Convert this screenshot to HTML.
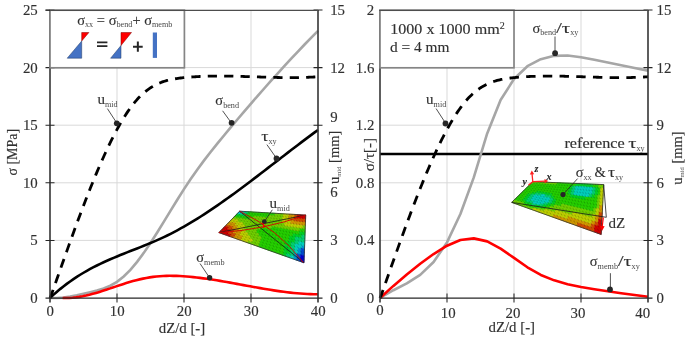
<!DOCTYPE html><html><head><meta charset="utf-8"><style>html,body{margin:0;padding:0;background:#fff;}svg{display:block;will-change:transform} text{stroke:currentColor;stroke-width:0.12px;paint-order:stroke} .s{stroke-width:0px}</style></head><body>
<svg width="685" height="337" viewBox="0 0 685 337" font-family='"Liberation Serif", serif'>
<rect width="685" height="337" fill="#fff"/>
<path d="M117.0,10.0 V298.0 M184.0,10.0 V298.0 M251.0,10.0 V298.0 M50.0,240.4 H318.0 M50.0,182.8 H318.0 M50.0,125.2 H318.0 M50.0,67.6 H318.0" stroke="#d9d9d9" stroke-width="1" fill="none"/>
<path d="M447.0,10.0 V298.0 M514.0,10.0 V298.0 M581.0,10.0 V298.0 M380.0,240.4 H648.0 M380.0,182.8 H648.0 M380.0,125.2 H648.0 M380.0,67.6 H648.0" stroke="#d9d9d9" stroke-width="1" fill="none"/>
<path d="M50.00,298.00 L56.70,298.00 L63.40,297.59 L70.10,296.65 L76.80,295.38 L83.50,293.86 L90.20,292.20 L96.90,290.47 L103.60,288.45 L110.30,285.72 L117.00,281.87 L123.70,276.54 L130.40,269.81 L137.10,261.85 L143.80,252.87 L150.50,243.03 L157.20,232.55 L163.90,221.67 L170.60,210.63 L177.30,199.70 L184.00,189.12 L190.70,179.01 L197.40,169.44 L204.10,160.41 L210.80,151.79 L217.50,143.42 L224.20,135.22 L230.90,127.16 L237.60,119.22 L244.30,111.37 L251.00,103.59 L257.70,95.89 L264.40,88.26 L271.10,80.73 L277.80,73.28 L284.50,65.93 L291.20,58.68 L297.90,51.54 L304.60,44.51 L311.30,37.59 L318.00,30.79" stroke="#a6a6a6" stroke-width="2.6" fill="none"/>
<path d="M50.00,298.00 L53.35,294.89 L56.70,291.93 L60.05,289.11 L63.40,286.43 L66.75,283.87 L70.10,281.43 L73.45,279.10 L76.80,276.88 L80.15,274.76 L83.50,272.74 L86.85,270.81 L90.20,268.96 L93.55,267.19 L96.90,265.49 L100.25,263.85 L103.60,262.28 L106.95,260.76 L110.30,259.28 L113.65,257.84 L117.00,256.44 L120.35,255.07 L123.70,253.72 L127.05,252.39 L130.40,251.07 L133.75,249.75 L137.10,248.43 L140.45,247.10 L143.80,245.76 L147.15,244.40 L150.50,243.01 L153.85,241.60 L157.20,240.14 L160.55,238.64 L163.90,237.08 L167.25,235.48 L170.60,233.81 L173.95,232.09 L177.30,230.31 L180.65,228.48 L184.00,226.60 L187.35,224.66 L190.70,222.68 L194.05,220.66 L197.40,218.59 L200.75,216.48 L204.10,214.32 L207.45,212.13 L210.80,209.90 L214.15,207.64 L217.50,205.35 L220.85,203.02 L224.20,200.66 L227.55,198.28 L230.90,195.86 L234.25,193.43 L237.60,190.97 L240.95,188.49 L244.30,185.99 L247.65,183.48 L251.00,180.95 L254.35,178.41 L257.70,175.85 L261.05,173.29 L264.40,170.72 L267.75,168.14 L271.10,165.56 L274.45,162.97 L277.80,160.38 L281.15,157.80 L284.50,155.22 L287.85,152.64 L291.20,150.07 L294.55,147.51 L297.90,144.95 L301.25,142.41 L304.60,139.88 L307.95,137.37 L311.30,134.88 L314.65,132.40 L318.00,129.95" stroke="#000" stroke-width="2.6" fill="none"/>
<path d="M62.60,298.00 L65.95,298.00 L69.30,297.97 L72.65,297.74 L76.00,297.37 L79.35,296.87 L82.70,296.27 L86.05,295.55 L89.40,294.75 L92.75,293.86 L96.10,292.91 L99.45,291.90 L102.80,290.84 L106.15,289.75 L109.50,288.63 L112.85,287.50 L116.20,286.37 L119.55,285.25 L122.90,284.15 L126.25,283.09 L129.60,282.07 L132.95,281.11 L136.30,280.21 L139.65,279.38 L143.00,278.63 L146.35,277.96 L149.70,277.38 L153.05,276.88 L156.40,276.49 L159.75,276.19 L163.10,275.98 L166.45,275.86 L169.80,275.81 L173.15,275.83 L176.50,275.92 L179.85,276.07 L183.20,276.27 L186.55,276.52 L189.90,276.81 L193.25,277.14 L196.60,277.51 L199.95,277.91 L203.30,278.34 L206.65,278.80 L210.00,279.29 L213.35,279.80 L216.70,280.33 L220.05,280.89 L223.40,281.46 L226.75,282.05 L230.10,282.64 L233.45,283.25 L236.80,283.87 L240.15,284.48 L243.50,285.10 L246.85,285.72 L250.20,286.34 L253.55,286.95 L256.90,287.56 L260.25,288.15 L263.60,288.73 L266.95,289.30 L270.30,289.84 L273.65,290.37 L277.00,290.87 L280.35,291.35 L283.70,291.80 L287.05,292.22 L290.40,292.61 L293.75,292.96 L297.10,293.27 L300.45,293.54 L303.80,293.77 L307.15,293.95 L310.50,294.09 L313.85,294.18 L317.20,294.21 L318.20,294.21" stroke="#ff0000" stroke-width="2.6" fill="none"/>
<path d="M50.00,298.00 L51.35,294.90 L52.69,291.06 L54.04,287.22 L55.39,283.39 L56.73,279.55 L58.08,275.73 L59.43,271.90 L60.77,268.08 L62.12,264.27 L63.47,260.47 L64.81,256.68 L66.16,252.90 L67.51,249.13 L68.85,245.37 L70.20,241.63 L71.55,237.90 L72.89,234.19 L74.24,230.50 L75.59,226.83 L76.93,223.18 L78.28,219.54 L79.63,215.94 L80.97,212.35 L82.32,208.79 L83.67,205.26 L85.02,201.75 L86.36,198.28 L87.71,194.83 L89.06,191.41 L90.40,188.03 L91.75,184.68 L93.10,181.36 L94.44,178.08 L95.79,174.84 L97.14,171.63 L98.48,168.46 L99.83,165.34 L101.18,162.25 L102.52,159.21 L103.87,156.21 L105.22,153.26 L106.56,150.35 L107.91,147.50 L109.26,144.69 L110.60,141.93 L111.95,139.22 L113.30,136.56 L114.64,133.96 L115.99,131.41 L117.34,128.92 L118.68,126.48 L120.03,124.10 L121.38,121.79 L122.72,119.53 L124.07,117.33 L125.42,115.20 L126.76,113.13 L128.11,111.13 L129.46,109.19 L130.80,107.32 L132.15,105.52 L133.50,103.79 L134.84,102.13 L136.19,100.55 L137.54,99.03 L138.88,97.59 L140.23,96.22 L141.58,94.91 L142.92,93.67 L144.27,92.50 L145.62,91.39 L146.96,90.33 L148.31,89.34 L149.66,88.40 L151.01,87.51 L152.35,86.68 L153.70,85.90 L155.05,85.17 L156.39,84.48 L157.74,83.84 L159.09,83.24 L160.43,82.68 L161.78,82.17 L163.13,81.69 L164.47,81.24 L165.82,80.83 L167.17,80.46 L168.51,80.11 L169.86,79.79 L171.21,79.49 L172.55,79.22 L173.90,78.98 L175.25,78.75 L176.59,78.54 L177.94,78.35 L179.29,78.18 L180.63,78.01 L181.98,77.86 L183.33,77.72 L184.67,77.58 L186.02,77.46 L187.37,77.34 L188.71,77.22 L190.06,77.11 L191.41,77.01 L192.75,76.91 L194.10,76.82 L195.45,76.74 L196.79,76.66 L198.14,76.59 L199.49,76.52 L200.83,76.46 L202.18,76.40 L203.53,76.35 L204.87,76.30 L206.22,76.26 L207.57,76.22 L208.91,76.19 L210.26,76.16 L211.61,76.13 L212.95,76.11 L214.30,76.10 L215.65,76.09 L216.99,76.08 L218.34,76.07 L219.69,76.07 L221.04,76.07 L222.38,76.08 L223.73,76.09 L225.08,76.10 L226.42,76.11 L227.77,76.13 L229.12,76.15 L230.46,76.17 L231.81,76.19 L233.16,76.22 L234.50,76.25 L235.85,76.28 L237.20,76.31 L238.54,76.35 L239.89,76.38 L241.24,76.42 L242.58,76.46 L243.93,76.50 L245.28,76.54 L246.62,76.58 L247.97,76.62 L249.32,76.66 L250.66,76.71 L252.01,76.75 L253.36,76.80 L254.70,76.84 L256.05,76.89 L257.40,76.93 L258.74,76.97 L260.09,77.02 L261.44,77.06 L262.78,77.10 L264.13,77.15 L265.48,77.19 L266.82,77.23 L268.17,77.27 L269.52,77.30 L270.86,77.34 L272.21,77.38 L273.56,77.41 L274.90,77.44 L276.25,77.47 L277.60,77.50 L278.94,77.52 L280.29,77.55 L281.64,77.57 L282.98,77.59 L284.33,77.60 L285.68,77.61 L287.03,77.62 L288.37,77.63 L289.72,77.63 L291.07,77.63 L292.41,77.63 L293.76,77.62 L295.11,77.61 L296.45,77.60 L297.80,77.58 L299.15,77.56 L300.49,77.53 L301.84,77.50 L303.19,77.46 L304.53,77.42 L305.88,77.38 L307.23,77.33 L308.57,77.27 L309.92,77.21 L311.27,77.15 L312.61,77.08 L313.96,77.00 L315.31,76.92 L316.65,76.83 L318.00,76.74" stroke="#000" stroke-width="2.8" fill="none" stroke-dasharray="9.2 7.2" stroke-dashoffset="0.5"/>
<path d="M380.0,154.0 H648.0" stroke="#000" stroke-width="2.7" fill="none"/>
<path d="M380.00,298.00 L393.40,290.23 L406.80,283.40 L420.20,274.86 L433.60,262.04 L447.00,242.40 L460.40,213.99 L473.80,177.40 L487.20,133.43 L500.60,100.06 L514.00,79.03 L527.40,66.21 L540.80,59.18 L554.20,55.83 L567.60,55.53 L581.00,57.19 L594.40,59.82 L607.80,62.59 L621.20,65.27 L634.60,67.93 L648.00,70.62" stroke="#a6a6a6" stroke-width="2.6" fill="none" stroke-linejoin="round"/>
<path d="M380.00,298.00 L393.40,285.89 L406.80,274.50 L420.20,263.76 L433.60,254.03 L447.00,245.70 L460.40,239.97 L473.80,238.36 L487.20,241.37 L500.60,248.58 L514.00,257.94 L527.40,267.26 L540.80,274.93 L554.20,280.37 L567.60,284.15 L581.00,286.93 L594.40,289.27 L607.80,291.32 L621.20,293.17 L634.60,294.93 L648.00,296.67" stroke="#ff0000" stroke-width="2.6" fill="none" stroke-linejoin="round"/>
<path d="M380.00,298.00 L381.35,294.90 L382.69,291.06 L384.04,287.22 L385.39,283.39 L386.73,279.55 L388.08,275.73 L389.43,271.90 L390.77,268.08 L392.12,264.27 L393.47,260.47 L394.81,256.68 L396.16,252.90 L397.51,249.13 L398.85,245.37 L400.20,241.63 L401.55,237.90 L402.89,234.19 L404.24,230.50 L405.59,226.83 L406.93,223.18 L408.28,219.54 L409.63,215.94 L410.97,212.35 L412.32,208.79 L413.67,205.26 L415.02,201.75 L416.36,198.28 L417.71,194.83 L419.06,191.41 L420.40,188.03 L421.75,184.68 L423.10,181.36 L424.44,178.08 L425.79,174.84 L427.14,171.63 L428.48,168.46 L429.83,165.34 L431.18,162.25 L432.52,159.21 L433.87,156.21 L435.22,153.26 L436.56,150.35 L437.91,147.50 L439.26,144.69 L440.60,141.93 L441.95,139.22 L443.30,136.56 L444.64,133.96 L445.99,131.41 L447.34,128.92 L448.68,126.48 L450.03,124.10 L451.38,121.79 L452.72,119.53 L454.07,117.33 L455.42,115.20 L456.76,113.13 L458.11,111.13 L459.46,109.19 L460.80,107.32 L462.15,105.52 L463.50,103.79 L464.84,102.13 L466.19,100.55 L467.54,99.03 L468.88,97.59 L470.23,96.22 L471.58,94.91 L472.92,93.67 L474.27,92.50 L475.62,91.39 L476.96,90.33 L478.31,89.34 L479.66,88.40 L481.01,87.51 L482.35,86.68 L483.70,85.90 L485.05,85.17 L486.39,84.48 L487.74,83.84 L489.09,83.24 L490.43,82.68 L491.78,82.17 L493.13,81.69 L494.47,81.24 L495.82,80.83 L497.17,80.46 L498.51,80.11 L499.86,79.79 L501.21,79.49 L502.55,79.22 L503.90,78.98 L505.25,78.75 L506.59,78.54 L507.94,78.35 L509.29,78.18 L510.63,78.01 L511.98,77.86 L513.33,77.72 L514.67,77.58 L516.02,77.46 L517.37,77.34 L518.71,77.22 L520.06,77.11 L521.41,77.01 L522.75,76.91 L524.10,76.82 L525.45,76.74 L526.79,76.66 L528.14,76.59 L529.49,76.52 L530.83,76.46 L532.18,76.40 L533.53,76.35 L534.87,76.30 L536.22,76.26 L537.57,76.22 L538.91,76.19 L540.26,76.16 L541.61,76.13 L542.95,76.11 L544.30,76.10 L545.65,76.09 L546.99,76.08 L548.34,76.07 L549.69,76.07 L551.04,76.07 L552.38,76.08 L553.73,76.09 L555.08,76.10 L556.42,76.11 L557.77,76.13 L559.12,76.15 L560.46,76.17 L561.81,76.19 L563.16,76.22 L564.50,76.25 L565.85,76.28 L567.20,76.31 L568.54,76.35 L569.89,76.38 L571.24,76.42 L572.58,76.46 L573.93,76.50 L575.28,76.54 L576.62,76.58 L577.97,76.62 L579.32,76.66 L580.66,76.71 L582.01,76.75 L583.36,76.80 L584.70,76.84 L586.05,76.89 L587.40,76.93 L588.74,76.97 L590.09,77.02 L591.44,77.06 L592.78,77.10 L594.13,77.15 L595.48,77.19 L596.82,77.23 L598.17,77.27 L599.52,77.30 L600.86,77.34 L602.21,77.38 L603.56,77.41 L604.90,77.44 L606.25,77.47 L607.60,77.50 L608.94,77.52 L610.29,77.55 L611.64,77.57 L612.98,77.59 L614.33,77.60 L615.68,77.61 L617.03,77.62 L618.37,77.63 L619.72,77.63 L621.07,77.63 L622.41,77.63 L623.76,77.62 L625.11,77.61 L626.45,77.60 L627.80,77.58 L629.15,77.56 L630.49,77.53 L631.84,77.50 L633.19,77.46 L634.53,77.42 L635.88,77.38 L637.23,77.33 L638.57,77.27 L639.92,77.21 L641.27,77.15 L642.61,77.08 L643.96,77.00 L645.31,76.92 L646.65,76.83 L648.00,76.74" stroke="#000" stroke-width="2.8" fill="none" stroke-dasharray="9.4 7.3" stroke-dashoffset="0.8"/>
<path d="M50.00,10.0 V302.5 M318.00,10.0 V302.5" stroke="#363636" stroke-width="1.6" fill="none"/>
<path d="M45.5,298.00 H322.5" stroke="#262626" stroke-width="1.25" fill="none"/>
<path d="M117.0,293.5 V302.5 M184.0,293.5 V302.5 M251.0,293.5 V302.5 M45.5,240.4 H54.5 M313.5,240.4 H322.5 M45.5,182.8 H54.5 M313.5,182.8 H322.5 M45.5,125.2 H54.5 M313.5,125.2 H322.5 M45.5,67.6 H54.5 M313.5,67.6 H322.5 M45.5,10.0 H54.5 M313.5,10.0 H322.5" stroke="#262626" stroke-width="1.05" fill="none"/>
<path d="M380.00,10.0 V302.5 M648.00,10.0 V302.5" stroke="#363636" stroke-width="1.6" fill="none"/>
<path d="M380.0,298.00 H652.5" stroke="#262626" stroke-width="1.25" fill="none"/>
<path d="M447.0,293.5 V302.5 M514.0,293.5 V302.5 M581.0,293.5 V302.5 M643.5,240.4 H652.5 M643.5,182.8 H652.5 M643.5,125.2 H652.5 M643.5,67.6 H652.5 M643.5,10.0 H652.5" stroke="#262626" stroke-width="1.05" fill="none"/>
<rect x="50.0" y="10.2" width="134.4" height="57.6" fill="#fff" stroke="#858585" stroke-width="1.7"/>
<path d="M49.2,10.30 H318.0" stroke="#4d4d4d" stroke-width="1.3" fill="none"/>
<path d="M45.5,10.30 H50.0" stroke="#262626" stroke-width="1.05" fill="none"/>
<rect x="380.0" y="10.2" width="134.0" height="57.6" fill="#fff" stroke="#858585" stroke-width="1.7"/>
<path d="M379.2,10.30 H648.0" stroke="#4d4d4d" stroke-width="1.3" fill="none"/>
<path d="M380.0,10.30 H380.0" stroke="#262626" stroke-width="1.05" fill="none"/>
<text x="37.8" y="302.9" font-size="14.0" text-anchor="end" fill="#303030" textLength="7.42" lengthAdjust="spacingAndGlyphs" >0</text>
<text x="37.8" y="245.3" font-size="14.0" text-anchor="end" fill="#303030" textLength="7.42" lengthAdjust="spacingAndGlyphs" >5</text>
<text x="37.8" y="187.7" font-size="14.0" text-anchor="end" fill="#303030" textLength="14.84" lengthAdjust="spacingAndGlyphs" >10</text>
<text x="37.8" y="130.1" font-size="14.0" text-anchor="end" fill="#303030" textLength="14.84" lengthAdjust="spacingAndGlyphs" >15</text>
<text x="37.8" y="72.5" font-size="14.0" text-anchor="end" fill="#303030" textLength="14.84" lengthAdjust="spacingAndGlyphs" >20</text>
<text x="37.8" y="14.9" font-size="14.0" text-anchor="end" fill="#303030" textLength="14.84" lengthAdjust="spacingAndGlyphs" >25</text>
<text x="330.2" y="302.9" font-size="14.0" text-anchor="start" fill="#303030" textLength="7.42" lengthAdjust="spacingAndGlyphs" >0</text>
<text x="330.2" y="245.3" font-size="14.0" text-anchor="start" fill="#303030" textLength="7.42" lengthAdjust="spacingAndGlyphs" >3</text>
<text x="330.2" y="196.5" font-size="14.0" text-anchor="start" fill="#303030" textLength="7.42" lengthAdjust="spacingAndGlyphs" >6</text>
<text x="330.2" y="122.4" font-size="14.0" text-anchor="start" fill="#303030" textLength="7.42" lengthAdjust="spacingAndGlyphs" >9</text>
<text x="330.2" y="72.5" font-size="14.0" text-anchor="start" fill="#303030" textLength="14.84" lengthAdjust="spacingAndGlyphs" >12</text>
<text x="330.2" y="14.9" font-size="14.0" text-anchor="start" fill="#303030" textLength="14.84" lengthAdjust="spacingAndGlyphs" >15</text>
<text x="50.3" y="315.6" font-size="14.0" text-anchor="middle" fill="#303030" textLength="7.42" lengthAdjust="spacingAndGlyphs" >0</text>
<text x="117.3" y="315.6" font-size="14.0" text-anchor="middle" fill="#303030" textLength="14.84" lengthAdjust="spacingAndGlyphs" >10</text>
<text x="184.3" y="315.6" font-size="14.0" text-anchor="middle" fill="#303030" textLength="14.84" lengthAdjust="spacingAndGlyphs" >20</text>
<text x="251.3" y="315.6" font-size="14.0" text-anchor="middle" fill="#303030" textLength="14.84" lengthAdjust="spacingAndGlyphs" >30</text>
<text x="318.3" y="315.6" font-size="14.0" text-anchor="middle" fill="#303030" textLength="14.84" lengthAdjust="spacingAndGlyphs" >40</text>
<text x="374.3" y="302.9" font-size="14.0" text-anchor="end" fill="#303030" textLength="7.42" lengthAdjust="spacingAndGlyphs" >0</text>
<text x="374.3" y="245.3" font-size="14.0" text-anchor="end" fill="#303030" textLength="18.55" lengthAdjust="spacingAndGlyphs" >0.4</text>
<text x="374.3" y="187.7" font-size="14.0" text-anchor="end" fill="#303030" textLength="18.55" lengthAdjust="spacingAndGlyphs" >0.8</text>
<text x="374.3" y="130.1" font-size="14.0" text-anchor="end" fill="#303030" textLength="18.55" lengthAdjust="spacingAndGlyphs" >1.2</text>
<text x="374.3" y="72.5" font-size="14.0" text-anchor="end" fill="#303030" textLength="18.55" lengthAdjust="spacingAndGlyphs" >1.6</text>
<text x="374.3" y="14.9" font-size="14.0" text-anchor="end" fill="#303030" textLength="7.42" lengthAdjust="spacingAndGlyphs" >2</text>
<text x="656.6" y="302.9" font-size="14.0" text-anchor="start" fill="#303030" textLength="7.42" lengthAdjust="spacingAndGlyphs" >0</text>
<text x="656.6" y="245.3" font-size="14.0" text-anchor="start" fill="#303030" textLength="7.42" lengthAdjust="spacingAndGlyphs" >3</text>
<text x="656.6" y="187.7" font-size="14.0" text-anchor="start" fill="#303030" textLength="7.42" lengthAdjust="spacingAndGlyphs" >6</text>
<text x="656.6" y="130.1" font-size="14.0" text-anchor="start" fill="#303030" textLength="7.42" lengthAdjust="spacingAndGlyphs" >9</text>
<text x="656.6" y="72.5" font-size="14.0" text-anchor="start" fill="#303030" textLength="14.84" lengthAdjust="spacingAndGlyphs" >12</text>
<text x="656.6" y="14.9" font-size="14.0" text-anchor="start" fill="#303030" textLength="14.84" lengthAdjust="spacingAndGlyphs" >15</text>
<text x="380.0" y="314.6" font-size="14.0" text-anchor="middle" fill="#303030" textLength="7.42" lengthAdjust="spacingAndGlyphs" >0</text>
<text x="448.3" y="318.2" font-size="14.0" text-anchor="middle" fill="#303030" textLength="14.84" lengthAdjust="spacingAndGlyphs" >10</text>
<text x="512.9" y="318.2" font-size="14.0" text-anchor="middle" fill="#303030" textLength="14.84" lengthAdjust="spacingAndGlyphs" >20</text>
<text x="577.9" y="318.2" font-size="14.0" text-anchor="middle" fill="#303030" textLength="14.84" lengthAdjust="spacingAndGlyphs" >30</text>
<text x="642.7" y="318.2" font-size="14.0" text-anchor="middle" fill="#303030" textLength="14.84" lengthAdjust="spacingAndGlyphs" >40</text>
<text x="182" y="332.6" font-size="14" text-anchor="middle" fill="#303030" textLength="46.5" lengthAdjust="spacingAndGlyphs">dZ/d [-]</text>
<text x="511.8" y="332" font-size="14" text-anchor="middle" fill="#303030" textLength="46.5" lengthAdjust="spacingAndGlyphs">dZ/d [-]</text>
<text transform="translate(17.2,152.2) rotate(-90)" font-size="14" text-anchor="middle" fill="#303030">σ [MPa]</text>
<text transform="translate(338.6,157.4) rotate(-90)" font-size="14.5" text-anchor="middle" fill="#303030">u<tspan class="s" font-size="6.6" dy="2" fill="#595959">mid</tspan><tspan dy="-2"> [mm]</tspan></text>
<text transform="translate(373.6,154.7) rotate(-90)" font-size="15" text-anchor="middle" fill="#303030">σ/τ[-]</text>
<text transform="translate(682.4,158) rotate(-90)" font-size="14.5" text-anchor="middle" fill="#303030">u<tspan class="s" font-size="6.6" dy="2" fill="#595959">mid</tspan><tspan dy="-2"> [mm]</tspan></text>
<path d="M239.6,211.2L242.4,211.4L240.9,213.0L238.1,212.7ZM293.9,252.7L297.4,253.8L297.1,257.0L293.7,255.9ZM293.7,255.9L297.1,257.0L296.9,260.3L293.4,259.0ZM297.8,247.3L301.2,248.2L301.0,251.6L297.6,250.5ZM297.6,250.5L301.0,251.6L300.8,254.9L297.4,253.8ZM301.3,244.9L304.6,245.8L304.5,249.2L301.2,248.2Z" fill="#009dd8" stroke="#009dd8" stroke-width="0.6"/><path d="M238.1,212.7L240.9,213.0L239.5,214.6L236.6,214.3ZM242.4,211.4L245.1,211.5L243.7,213.2L240.9,213.0ZM240.9,213.0L243.7,213.2L242.4,214.9L239.5,214.6ZM290.2,254.7L293.7,255.9L293.4,259.0L289.8,257.8ZM294.8,243.2L298.1,244.0L297.8,247.3L294.5,246.3ZM294.5,246.3L297.8,247.3L297.6,250.5L294.2,249.5ZM294.2,249.5L297.6,250.5L297.4,253.8L293.9,252.7ZM298.3,240.8L301.5,241.6L301.3,244.9L298.1,244.0ZM298.1,244.0L301.3,244.9L301.2,248.2L297.8,247.3ZM301.5,241.6L304.7,242.4L304.6,245.8L301.3,244.9Z" fill="#00d8c5" stroke="#00d8c5" stroke-width="0.6"/><path d="M236.6,214.3L239.5,214.6L238.1,216.2L235.2,215.8ZM239.5,214.6L242.4,214.9L241.0,216.6L238.1,216.2ZM242.4,214.9L245.2,215.2L243.9,217.0L241.0,216.6ZM247.9,211.7L250.6,211.8L249.4,213.7L246.6,213.5ZM246.6,213.5L249.4,213.7L248.1,215.5L245.2,215.2ZM285.0,240.6L288.3,241.4L287.9,244.4L284.6,243.5ZM284.6,243.5L287.9,244.4L287.5,247.5L284.1,246.4ZM284.1,246.4L287.5,247.5L287.1,250.5L283.6,249.4ZM283.6,249.4L287.1,250.5L286.7,253.5L283.2,252.3ZM283.2,252.3L286.7,253.5L286.3,256.5L282.7,255.3ZM289.1,235.4L292.2,236.1L291.9,239.2L288.7,238.4ZM288.7,238.4L291.9,239.2L291.6,242.3L288.3,241.4ZM288.3,241.4L291.6,242.3L291.2,245.4L287.9,244.4ZM287.9,244.4L291.2,245.4L290.9,248.5L287.5,247.5ZM287.5,247.5L290.9,248.5L290.5,251.6L287.1,250.5ZM287.1,250.5L290.5,251.6L290.2,254.7L286.7,253.5ZM292.6,233.0L295.7,233.6L295.4,236.8L292.2,236.1ZM292.2,236.1L295.4,236.8L295.1,240.0L291.9,239.2ZM291.9,239.2L295.1,240.0L294.8,243.2L291.6,242.3ZM295.7,233.6L298.8,234.3L298.6,237.5L295.4,236.8ZM299.0,231.0L302.1,231.6L301.9,234.9L298.8,234.3ZM298.8,234.3L301.9,234.9L301.7,238.2L298.6,237.5ZM302.1,231.6L305.1,232.1L305.0,235.5L301.9,234.9Z" fill="#00d827" stroke="#00d827" stroke-width="0.6"/><path d="M235.2,215.8L238.1,216.2L236.7,217.8L233.7,217.3ZM238.1,216.2L241.0,216.6L239.6,218.3L236.7,217.8ZM241.0,216.6L243.9,217.0L242.6,218.7L239.6,218.3ZM245.2,215.2L248.1,215.5L246.9,217.4L243.9,217.0ZM243.9,217.0L246.9,217.4L245.6,219.2L242.6,218.7ZM250.6,211.8L253.4,212.0L252.2,213.9L249.4,213.7ZM249.4,213.7L252.2,213.9L251.0,215.9L248.1,215.5ZM248.1,215.5L251.0,215.9L249.8,217.8L246.9,217.4ZM246.9,217.4L249.8,217.8L248.6,219.7L245.6,219.2ZM253.4,212.0L256.1,212.2L255.0,214.2L252.2,213.9ZM252.2,213.9L255.0,214.2L253.8,216.2L251.0,215.9ZM251.0,215.9L253.8,216.2L252.7,218.2L249.8,217.8ZM256.1,212.2L258.9,212.3L257.8,214.4L255.0,214.2ZM255.0,214.2L257.8,214.4L256.7,216.5L253.8,216.2ZM258.9,212.3L261.6,212.5L260.6,214.7L257.8,214.4ZM257.8,214.4L260.6,214.7L259.6,216.8L256.7,216.5ZM261.6,212.5L264.4,212.7L263.4,214.9L260.6,214.7ZM260.6,214.7L263.4,214.9L262.4,217.1L259.6,216.8ZM264.4,212.7L267.1,212.8L266.2,215.1L263.4,214.9ZM263.4,214.9L266.2,215.1L265.3,217.4L262.4,217.1ZM257.6,228.3L260.8,229.0L259.8,231.3L256.6,230.5ZM256.6,230.5L259.8,231.3L258.9,233.6L255.7,232.8ZM267.1,212.8L269.9,213.0L269.0,215.4L266.2,215.1ZM266.2,215.1L269.0,215.4L268.2,217.8L265.3,217.4ZM261.7,226.7L264.8,227.3L263.9,229.7L260.8,229.0ZM260.8,229.0L263.9,229.7L263.0,232.1L259.8,231.3ZM259.8,231.3L263.0,232.1L262.2,234.5L258.9,233.6ZM258.9,233.6L262.2,234.5L261.3,236.9L258.0,235.9ZM269.9,213.0L272.6,213.1L271.8,215.6L269.0,215.4ZM264.8,227.3L267.9,228.0L267.1,230.4L263.9,229.7ZM263.9,229.7L267.1,230.4L266.2,232.9L263.0,232.1ZM263.0,232.1L266.2,232.9L265.5,235.4L262.2,234.5ZM262.2,234.5L265.5,235.4L264.7,237.8L261.3,236.9ZM261.3,236.9L264.7,237.8L263.9,240.3L260.5,239.3ZM260.5,239.3L263.9,240.3L263.1,242.8L259.6,241.7ZM259.6,241.7L263.1,242.8L262.2,245.2L258.8,244.1ZM258.8,244.1L262.2,245.2L261.4,247.7L257.9,246.4ZM272.6,213.1L275.4,213.3L274.7,215.9L271.8,215.6ZM267.9,228.0L270.9,228.6L270.2,231.1L267.1,230.4ZM267.1,230.4L270.2,231.1L269.5,233.7L266.2,232.9ZM266.2,232.9L269.5,233.7L268.7,236.2L265.5,235.4ZM265.5,235.4L268.7,236.2L268.0,238.8L264.7,237.8ZM264.7,237.8L268.0,238.8L267.2,241.3L263.9,240.3ZM263.9,240.3L267.2,241.3L266.5,243.9L263.1,242.8ZM263.1,242.8L266.5,243.9L265.7,246.4L262.2,245.2ZM262.2,245.2L265.7,246.4L265.0,249.0L261.4,247.7ZM271.7,226.0L274.7,226.6L274.0,229.2L270.9,228.6ZM270.9,228.6L274.0,229.2L273.4,231.8L270.2,231.1ZM270.2,231.1L273.4,231.8L272.7,234.5L269.5,233.7ZM269.5,233.7L272.7,234.5L272.0,237.1L268.7,236.2ZM268.7,236.2L272.0,237.1L271.3,239.7L268.0,238.8ZM268.0,238.8L271.3,239.7L270.6,242.3L267.2,241.3ZM267.2,241.3L270.6,242.3L269.9,245.0L266.5,243.9ZM266.5,243.9L269.9,245.0L269.2,247.6L265.7,246.4ZM265.7,246.4L269.2,247.6L268.5,250.2L265.0,249.0ZM274.7,226.6L277.8,227.2L277.1,229.9L274.0,229.2ZM274.0,229.2L277.1,229.9L276.5,232.6L273.4,231.8ZM273.4,231.8L276.5,232.6L275.9,235.3L272.7,234.5ZM272.7,234.5L275.9,235.3L275.2,238.0L272.0,237.1ZM272.0,237.1L275.2,238.0L274.6,240.7L271.3,239.7ZM271.3,239.7L274.6,240.7L274.0,243.4L270.6,242.3ZM270.6,242.3L274.0,243.4L273.3,246.1L269.9,245.0ZM269.9,245.0L273.3,246.1L272.7,248.8L269.2,247.6ZM269.2,247.6L272.7,248.8L272.1,251.5L268.5,250.2ZM277.8,227.2L280.8,227.7L280.2,230.5L277.1,229.9ZM277.1,229.9L280.2,230.5L279.6,233.3L276.5,232.6ZM276.5,232.6L279.6,233.3L279.1,236.0L275.9,235.3ZM275.9,235.3L279.1,236.0L278.5,238.8L275.2,238.0ZM275.2,238.0L278.5,238.8L277.9,241.6L274.6,240.7ZM274.6,240.7L277.9,241.6L277.4,244.4L274.0,243.4ZM274.0,243.4L277.4,244.4L276.8,247.2L273.3,246.1ZM273.3,246.1L276.8,247.2L276.2,250.0L272.7,248.8ZM272.7,248.8L276.2,250.0L275.6,252.7L272.1,251.5ZM280.8,227.7L283.8,228.3L283.3,231.1L280.2,230.5ZM280.2,230.5L283.3,231.1L282.8,234.0L279.6,233.3ZM279.6,233.3L282.8,234.0L282.3,236.8L279.1,236.0ZM279.1,236.0L282.3,236.8L281.8,239.7L278.5,238.8ZM278.5,238.8L281.8,239.7L281.2,242.6L277.9,241.6ZM277.9,241.6L281.2,242.6L280.7,245.4L277.4,244.4ZM277.4,244.4L280.7,245.4L280.2,248.3L276.8,247.2ZM276.8,247.2L280.2,248.3L279.7,251.1L276.2,250.0ZM276.2,250.0L279.7,251.1L279.2,254.0L275.6,252.7ZM283.8,228.3L286.9,228.8L286.4,231.8L283.3,231.1ZM283.3,231.1L286.4,231.8L285.9,234.7L282.8,234.0ZM282.8,234.0L285.9,234.7L285.5,237.6L282.3,236.8ZM282.3,236.8L285.5,237.6L285.0,240.6L281.8,239.7ZM281.8,239.7L285.0,240.6L284.6,243.5L281.2,242.6ZM281.2,242.6L284.6,243.5L284.1,246.4L280.7,245.4ZM280.7,245.4L284.1,246.4L283.6,249.4L280.2,248.3ZM280.2,248.3L283.6,249.4L283.2,252.3L279.7,251.1ZM279.7,251.1L283.2,252.3L282.7,255.3L279.2,254.0ZM286.9,228.8L289.9,229.4L289.5,232.4L286.4,231.8ZM286.4,231.8L289.5,232.4L289.1,235.4L285.9,234.7ZM285.9,234.7L289.1,235.4L288.7,238.4L285.5,237.6ZM285.5,237.6L288.7,238.4L288.3,241.4L285.0,240.6ZM289.9,229.4L292.9,229.9L292.6,233.0L289.5,232.4ZM289.5,232.4L292.6,233.0L292.2,236.1L289.1,235.4ZM292.9,229.9L296.0,230.5L295.7,233.6L292.6,233.0ZM296.0,230.5L299.0,231.0L298.8,234.3L295.7,233.6ZM299.3,227.8L302.2,228.3L302.1,231.6L299.0,231.0ZM302.2,228.3L305.2,228.7L305.1,232.1L302.1,231.6Z" fill="#27d800" stroke="#27d800" stroke-width="0.6"/><path d="M233.7,217.3L236.7,217.8L235.2,219.4L232.2,218.8ZM236.7,217.8L239.6,218.3L238.3,220.0L235.2,219.4ZM239.6,218.3L242.6,218.7L241.3,220.5L238.3,220.0ZM238.3,220.0L241.3,220.5L240.0,222.3L236.9,221.6ZM242.6,218.7L245.6,219.2L244.4,221.1L241.3,220.5ZM241.3,220.5L244.4,221.1L243.1,222.9L240.0,222.3ZM245.6,219.2L248.6,219.7L247.4,221.6L244.4,221.1ZM244.4,221.1L247.4,221.6L246.2,223.5L243.1,222.9ZM243.1,222.9L246.2,223.5L245.0,225.5L241.8,224.7ZM249.8,217.8L252.7,218.2L251.6,220.2L248.6,219.7ZM248.6,219.7L251.6,220.2L250.4,222.2L247.4,221.6ZM247.4,221.6L250.4,222.2L249.3,224.2L246.2,223.5ZM246.2,223.5L249.3,224.2L248.2,226.2L245.0,225.5ZM245.0,225.5L248.2,226.2L247.0,228.2L243.8,227.4ZM243.8,227.4L247.0,228.2L245.9,230.2L242.6,229.3ZM253.8,216.2L256.7,216.5L255.6,218.6L252.7,218.2ZM252.7,218.2L255.6,218.6L254.5,220.6L251.6,220.2ZM251.6,220.2L254.5,220.6L253.5,222.7L250.4,222.2ZM250.4,222.2L253.5,222.7L252.4,224.8L249.3,224.2ZM249.3,224.2L252.4,224.8L251.3,226.9L248.2,226.2ZM248.2,226.2L251.3,226.9L250.2,228.9L247.0,228.2ZM247.0,228.2L250.2,228.9L249.1,231.0L245.9,230.2ZM245.9,230.2L249.1,231.0L248.1,233.1L244.7,232.2ZM256.7,216.5L259.6,216.8L258.6,219.0L255.6,218.6ZM255.6,218.6L258.6,219.0L257.5,221.1L254.5,220.6ZM254.5,220.6L257.5,221.1L256.5,223.3L253.5,222.7ZM253.5,222.7L256.5,223.3L255.5,225.4L252.4,224.8ZM252.4,224.8L255.5,225.4L254.4,227.6L251.3,226.9ZM251.3,226.9L254.4,227.6L253.4,229.7L250.2,228.9ZM250.2,228.9L253.4,229.7L252.4,231.9L249.1,231.0ZM249.1,231.0L252.4,231.9L251.4,234.0L248.1,233.1ZM248.1,233.1L251.4,234.0L250.3,236.2L247.0,235.2ZM259.6,216.8L262.4,217.1L261.5,219.4L258.6,219.0ZM258.6,219.0L261.5,219.4L260.5,221.6L257.5,221.1ZM257.5,221.1L260.5,221.6L259.5,223.8L256.5,223.3ZM256.5,223.3L259.5,223.8L258.6,226.1L255.5,225.4ZM255.5,225.4L258.6,226.1L257.6,228.3L254.4,227.6ZM254.4,227.6L257.6,228.3L256.6,230.5L253.4,229.7ZM253.4,229.7L256.6,230.5L255.7,232.8L252.4,231.9ZM252.4,231.9L255.7,232.8L254.7,235.0L251.4,234.0ZM251.4,234.0L254.7,235.0L253.7,237.2L250.3,236.2ZM250.3,236.2L253.7,237.2L252.8,239.5L249.3,238.4ZM248.3,240.5L251.8,241.7L250.8,243.9L247.3,242.7ZM262.4,217.1L265.3,217.4L264.4,219.8L261.5,219.4ZM261.5,219.4L264.4,219.8L263.5,222.1L260.5,221.6ZM260.5,221.6L263.5,222.1L262.6,224.4L259.5,223.8ZM259.5,223.8L262.6,224.4L261.7,226.7L258.6,226.1ZM258.6,226.1L261.7,226.7L260.8,229.0L257.6,228.3ZM255.7,232.8L258.9,233.6L258.0,235.9L254.7,235.0ZM254.7,235.0L258.0,235.9L257.1,238.2L253.7,237.2ZM253.7,237.2L257.1,238.2L256.2,240.6L252.8,239.5ZM252.8,239.5L256.2,240.6L255.3,242.9L251.8,241.7ZM251.8,241.7L255.3,242.9L254.4,245.2L250.8,243.9ZM265.3,217.4L268.2,217.8L267.3,220.2L264.4,219.8ZM264.4,219.8L267.3,220.2L266.5,222.5L263.5,222.1ZM263.5,222.1L266.5,222.5L265.6,224.9L262.6,224.4ZM262.6,224.4L265.6,224.9L264.8,227.3L261.7,226.7ZM258.0,235.9L261.3,236.9L260.5,239.3L257.1,238.2ZM257.1,238.2L260.5,239.3L259.6,241.7L256.2,240.6ZM256.2,240.6L259.6,241.7L258.8,244.1L255.3,242.9ZM255.3,242.9L258.8,244.1L257.9,246.4L254.4,245.2ZM269.0,215.4L271.8,215.6L271.1,218.1L268.2,217.8ZM268.2,217.8L271.1,218.1L270.2,220.6L267.3,220.2ZM267.3,220.2L270.2,220.6L269.4,223.0L266.5,222.5ZM266.5,222.5L269.4,223.0L268.6,225.5L265.6,224.9ZM265.6,224.9L268.6,225.5L267.9,228.0L264.8,227.3ZM271.8,215.6L274.7,215.9L273.9,218.4L271.1,218.1ZM271.1,218.1L273.9,218.4L273.2,221.0L270.2,220.6ZM270.2,220.6L273.2,221.0L272.4,223.5L269.4,223.0ZM269.4,223.0L272.4,223.5L271.7,226.0L268.6,225.5ZM268.6,225.5L271.7,226.0L270.9,228.6L267.9,228.0ZM275.4,213.3L278.2,213.5L277.5,216.1L274.7,215.9ZM274.7,215.9L277.5,216.1L276.8,218.7L273.9,218.4ZM273.9,218.4L276.8,218.7L276.1,221.3L273.2,221.0ZM273.2,221.0L276.1,221.3L275.4,224.0L272.4,223.5ZM272.4,223.5L275.4,224.0L274.7,226.6L271.7,226.0ZM278.2,213.5L280.9,213.6L280.3,216.3L277.5,216.1ZM277.5,216.1L280.3,216.3L279.7,219.0L276.8,218.7ZM276.8,218.7L279.7,219.0L279.0,221.7L276.1,221.3ZM276.1,221.3L279.0,221.7L278.4,224.4L275.4,224.0ZM275.4,224.0L278.4,224.4L277.8,227.2L274.7,226.6ZM280.9,213.6L283.7,213.8L283.1,216.6L280.3,216.3ZM280.3,216.3L283.1,216.6L282.5,219.4L279.7,219.0ZM279.7,219.0L282.5,219.4L281.9,222.1L279.0,221.7ZM279.0,221.7L281.9,222.1L281.4,224.9L278.4,224.4ZM278.4,224.4L281.4,224.9L280.8,227.7L277.8,227.2ZM281.9,222.1L284.9,222.5L284.4,225.4L281.4,224.9ZM281.4,224.9L284.4,225.4L283.8,228.3L280.8,227.7ZM284.4,225.4L287.3,225.9L286.9,228.8L283.8,228.3ZM287.3,225.9L290.3,226.4L289.9,229.4L286.9,228.8ZM290.3,226.4L293.3,226.8L292.9,229.9L289.9,229.4ZM293.3,226.8L296.3,227.3L296.0,230.5L292.9,229.9ZM296.3,227.3L299.3,227.8L299.0,231.0L296.0,230.5ZM302.4,224.9L305.3,225.3L305.2,228.7L302.2,228.3Z" fill="#76d800" stroke="#76d800" stroke-width="0.6"/><path d="M232.2,218.8L235.2,219.4L233.8,221.0L230.7,220.4ZM230.7,220.4L233.8,221.0L232.4,222.6L229.2,221.9ZM235.2,219.4L238.3,220.0L236.9,221.6L233.8,221.0ZM233.8,221.0L236.9,221.6L235.6,223.3L232.4,222.6ZM236.9,221.6L240.0,222.3L238.7,224.0L235.6,223.3ZM235.6,223.3L238.7,224.0L237.4,225.8L234.2,225.0ZM240.0,222.3L243.1,222.9L241.8,224.7L238.7,224.0ZM238.7,224.0L241.8,224.7L240.6,226.6L237.4,225.8ZM237.4,225.8L240.6,226.6L239.3,228.4L236.1,227.6ZM241.8,224.7L245.0,225.5L243.8,227.4L240.6,226.6ZM240.6,226.6L243.8,227.4L242.6,229.3L239.3,228.4ZM239.3,228.4L242.6,229.3L241.4,231.2L238.1,230.3ZM242.6,229.3L245.9,230.2L244.7,232.2L241.4,231.2ZM241.4,231.2L244.7,232.2L243.6,234.2L240.2,233.1ZM240.2,233.1L243.6,234.2L242.5,236.2L239.0,235.1ZM244.7,232.2L248.1,233.1L247.0,235.2L243.6,234.2ZM243.6,234.2L247.0,235.2L245.9,237.3L242.5,236.2ZM242.5,236.2L245.9,237.3L244.8,239.3L241.3,238.2ZM241.3,238.2L244.8,239.3L243.7,241.4L240.2,240.1ZM247.0,235.2L250.3,236.2L249.3,238.4L245.9,237.3ZM245.9,237.3L249.3,238.4L248.3,240.5L244.8,239.3ZM244.8,239.3L248.3,240.5L247.3,242.7L243.7,241.4ZM249.3,238.4L252.8,239.5L251.8,241.7L248.3,240.5ZM283.7,213.8L286.4,214.0L285.9,216.8L283.1,216.6ZM283.1,216.6L285.9,216.8L285.4,219.7L282.5,219.4ZM282.5,219.4L285.4,219.7L284.9,222.5L281.9,222.1ZM286.4,214.0L289.2,214.1L288.7,217.1L285.9,216.8ZM285.9,216.8L288.7,217.1L288.3,220.0L285.4,219.7ZM285.4,219.7L288.3,220.0L287.8,222.9L284.9,222.5ZM284.9,222.5L287.8,222.9L287.3,225.9L284.4,225.4ZM288.3,220.0L291.1,220.3L290.7,223.3L287.8,222.9ZM287.8,222.9L290.7,223.3L290.3,226.4L287.3,225.9ZM290.7,223.3L293.6,223.7L293.3,226.8L290.3,226.4ZM293.6,223.7L296.6,224.1L296.3,227.3L293.3,226.8ZM296.6,224.1L299.5,224.5L299.3,227.8L296.3,227.3ZM299.5,224.5L302.4,224.9L302.2,228.3L299.3,227.8Z" fill="#c5d800" stroke="#c5d800" stroke-width="0.6"/><path d="M229.2,221.9L232.4,222.6L231.0,224.2L227.8,223.4ZM227.8,223.4L231.0,224.2L229.6,225.8L226.3,225.0ZM232.4,222.6L235.6,223.3L234.2,225.0L231.0,224.2ZM231.0,224.2L234.2,225.0L232.8,226.7L229.6,225.8ZM234.2,225.0L237.4,225.8L236.1,227.6L232.8,226.7ZM232.8,226.7L236.1,227.6L234.8,229.3L231.5,228.4ZM236.1,227.6L239.3,228.4L238.1,230.3L234.8,229.3ZM234.8,229.3L238.1,230.3L236.8,232.1L233.5,231.1ZM233.5,231.1L236.8,232.1L235.6,234.0L232.2,232.8ZM238.1,230.3L241.4,231.2L240.2,233.1L236.8,232.1ZM236.8,232.1L240.2,233.1L239.0,235.1L235.6,234.0ZM235.6,234.0L239.0,235.1L237.8,237.0L234.3,235.8ZM234.3,235.8L237.8,237.0L236.6,238.9L233.1,237.6ZM239.0,235.1L242.5,236.2L241.3,238.2L237.8,237.0ZM237.8,237.0L241.3,238.2L240.2,240.1L236.6,238.9ZM289.2,214.1L291.9,214.3L291.5,217.3L288.7,217.1ZM288.7,217.1L291.5,217.3L291.1,220.3L288.3,220.0ZM291.9,214.3L294.7,214.4L294.3,217.5L291.5,217.3ZM291.5,217.3L294.3,217.5L294.0,220.6L291.1,220.3ZM291.1,220.3L294.0,220.6L293.6,223.7L290.7,223.3ZM294.0,220.6L296.9,221.0L296.6,224.1L293.6,223.7ZM296.9,221.0L299.7,221.3L299.5,224.5L296.6,224.1ZM299.7,221.3L302.6,221.6L302.4,224.9L299.5,224.5ZM302.6,221.6L305.5,221.9L305.3,225.3L302.4,224.9Z" fill="#d89d00" stroke="#d89d00" stroke-width="0.6"/><path d="M226.3,225.0L229.6,225.8L228.1,227.4L224.8,226.5ZM229.6,225.8L232.8,226.7L231.5,228.4L228.1,227.4ZM228.1,227.4L231.5,228.4L230.1,230.1L226.7,229.0ZM231.5,228.4L234.8,229.3L233.5,231.1L230.1,230.1ZM230.1,230.1L233.5,231.1L232.2,232.8L228.7,231.7ZM228.7,231.7L232.2,232.8L230.8,234.6L227.4,233.4ZM232.2,232.8L235.6,234.0L234.3,235.8L230.8,234.6ZM230.8,234.6L234.3,235.8L233.1,237.6L229.5,236.4ZM294.7,214.4L297.4,214.6L297.1,217.8L294.3,217.5ZM294.3,217.5L297.1,217.8L296.9,221.0L294.0,220.6ZM297.1,217.8L300.0,218.0L299.7,221.3L296.9,221.0ZM300.0,218.0L302.8,218.3L302.6,221.6L299.7,221.3ZM302.8,218.3L305.6,218.5L305.5,221.9L302.6,221.6Z" fill="#d84f00" stroke="#d84f00" stroke-width="0.6"/><path d="M224.8,226.5L228.1,227.4L226.7,229.0L223.3,228.0ZM223.3,228.0L226.7,229.0L225.3,230.6L221.9,229.5ZM221.9,229.5L225.3,230.6L223.9,232.3L220.4,231.1ZM220.4,231.1L223.9,232.3L222.4,233.9L218.9,232.6ZM226.7,229.0L230.1,230.1L228.7,231.7L225.3,230.6ZM225.3,230.6L228.7,231.7L227.4,233.4L223.9,232.3ZM223.9,232.3L227.4,233.4L226.0,235.1L222.4,233.9ZM227.4,233.4L230.8,234.6L229.5,236.4L226.0,235.1ZM297.4,214.6L300.2,214.8L300.0,218.0L297.1,217.8ZM300.2,214.8L302.9,214.9L302.8,218.3L300.0,218.0ZM302.9,214.9L305.7,215.1L305.6,218.5L302.8,218.3Z" fill="#d80000" stroke="#d80000" stroke-width="0.6"/><path d="M245.1,211.5L247.9,211.7L246.6,213.5L243.7,213.2ZM243.7,213.2L246.6,213.5L245.2,215.2L242.4,214.9ZM286.7,253.5L290.2,254.7L289.8,257.8L286.3,256.5ZM291.6,242.3L294.8,243.2L294.5,246.3L291.2,245.4ZM291.2,245.4L294.5,246.3L294.2,249.5L290.9,248.5ZM290.9,248.5L294.2,249.5L293.9,252.7L290.5,251.6ZM290.5,251.6L293.9,252.7L293.7,255.9L290.2,254.7ZM295.4,236.8L298.6,237.5L298.3,240.8L295.1,240.0ZM295.1,240.0L298.3,240.8L298.1,244.0L294.8,243.2ZM298.6,237.5L301.7,238.2L301.5,241.6L298.3,240.8ZM301.9,234.9L305.0,235.5L304.9,238.9L301.7,238.2ZM301.7,238.2L304.9,238.9L304.7,242.4L301.5,241.6Z" fill="#00d876" stroke="#00d876" stroke-width="0.6"/><path d="M297.4,253.8L300.8,254.9L300.6,258.2L297.1,257.0ZM297.1,257.0L300.6,258.2L300.5,261.5L296.9,260.3ZM301.2,248.2L304.5,249.2L304.4,252.6L301.0,251.6ZM301.0,251.6L304.4,252.6L304.2,256.0L300.8,254.9Z" fill="#004fd8" stroke="#004fd8" stroke-width="0.6"/><path d="M300.8,254.9L304.2,256.0L304.1,259.4L300.6,258.2ZM300.6,258.2L304.1,259.4L304.0,262.8L300.5,261.5Z" fill="#0000d8" stroke="#0000d8" stroke-width="0.6"/><path d="M242.4,211.4L222.4,233.9M245.1,211.5L226.0,235.1M247.9,211.7L229.5,236.4M250.6,211.8L233.1,237.6M253.4,212.0L236.6,238.9M256.1,212.2L240.2,240.1M258.9,212.3L243.7,241.4M261.6,212.5L247.3,242.7M264.4,212.7L250.8,243.9M267.1,212.8L254.4,245.2M269.9,213.0L257.9,246.4M272.6,213.1L261.4,247.7M275.4,213.3L265.0,249.0M278.2,213.5L268.5,250.2M280.9,213.6L272.1,251.5M283.7,213.8L275.6,252.7M286.4,214.0L279.2,254.0M289.2,214.1L282.7,255.3M291.9,214.3L286.3,256.5M294.7,214.4L289.8,257.8M297.4,214.6L293.4,259.0M300.2,214.8L296.9,260.3M302.9,214.9L300.5,261.5M238.1,212.7L305.6,218.5M236.6,214.3L305.5,221.9M235.2,215.8L305.3,225.3M233.7,217.3L305.2,228.7M232.2,218.8L305.1,232.1M230.7,220.4L305.0,235.5M229.2,221.9L304.9,238.9M227.8,223.4L304.7,242.4M226.3,225.0L304.6,245.8M224.8,226.5L304.5,249.2M223.3,228.0L304.4,252.6M221.9,229.5L304.2,256.0M220.4,231.1L304.1,259.4M220.4,231.1L222.4,233.9M221.9,229.5L223.9,232.3L226.0,235.1M223.3,228.0L225.3,230.6L227.4,233.4L229.5,236.4M224.8,226.5L226.7,229.0L228.7,231.7L230.8,234.6L233.1,237.6M226.3,225.0L228.1,227.4L230.1,230.1L232.2,232.8L234.3,235.8L236.6,238.9M227.8,223.4L229.6,225.8L231.5,228.4L233.5,231.1L235.6,234.0L237.8,237.0L240.2,240.1M229.2,221.9L231.0,224.2L232.8,226.7L234.8,229.3L236.8,232.1L239.0,235.1L241.3,238.2L243.7,241.4M230.7,220.4L232.4,222.6L234.2,225.0L236.1,227.6L238.1,230.3L240.2,233.1L242.5,236.2L244.8,239.3L247.3,242.7M232.2,218.8L233.8,221.0L235.6,223.3L237.4,225.8L239.3,228.4L241.4,231.2L243.6,234.2L245.9,237.3L248.3,240.5L250.8,243.9M233.7,217.3L235.2,219.4L236.9,221.6L238.7,224.0L240.6,226.6L242.6,229.3L244.7,232.2L247.0,235.2L249.3,238.4L251.8,241.7L254.4,245.2M235.2,215.8L236.7,217.8L238.3,220.0L240.0,222.3L241.8,224.7L243.8,227.4L245.9,230.2L248.1,233.1L250.3,236.2L252.8,239.5L255.3,242.9L257.9,246.4M236.6,214.3L238.1,216.2L239.6,218.3L241.3,220.5L243.1,222.9L245.0,225.5L247.0,228.2L249.1,231.0L251.4,234.0L253.7,237.2L256.2,240.6L258.8,244.1L261.4,247.7M238.1,212.7L239.5,214.6L241.0,216.6L242.6,218.7L244.4,221.1L246.2,223.5L248.2,226.2L250.2,228.9L252.4,231.9L254.7,235.0L257.1,238.2L259.6,241.7L262.2,245.2L265.0,249.0M239.6,211.2L240.9,213.0L242.4,214.9L243.9,217.0L245.6,219.2L247.4,221.6L249.3,224.2L251.3,226.9L253.4,229.7L255.7,232.8L258.0,235.9L260.5,239.3L263.1,242.8L265.7,246.4L268.5,250.2M242.4,211.4L243.7,213.2L245.2,215.2L246.9,217.4L248.6,219.7L250.4,222.2L252.4,224.8L254.4,227.6L256.6,230.5L258.9,233.6L261.3,236.9L263.9,240.3L266.5,243.9L269.2,247.6L272.1,251.5M245.1,211.5L246.6,213.5L248.1,215.5L249.8,217.8L251.6,220.2L253.5,222.7L255.5,225.4L257.6,228.3L259.8,231.3L262.2,234.5L264.7,237.8L267.2,241.3L269.9,245.0L272.7,248.8L275.6,252.7M247.9,211.7L249.4,213.7L251.0,215.9L252.7,218.2L254.5,220.6L256.5,223.3L258.6,226.1L260.8,229.0L263.0,232.1L265.5,235.4L268.0,238.8L270.6,242.3L273.3,246.1L276.2,250.0L279.2,254.0M250.6,211.8L252.2,213.9L253.8,216.2L255.6,218.6L257.5,221.1L259.5,223.8L261.7,226.7L263.9,229.7L266.2,232.9L268.7,236.2L271.3,239.7L274.0,243.4L276.8,247.2L279.7,251.1L282.7,255.3M253.4,212.0L255.0,214.2L256.7,216.5L258.6,219.0L260.5,221.6L262.6,224.4L264.8,227.3L267.1,230.4L269.5,233.7L272.0,237.1L274.6,240.7L277.4,244.4L280.2,248.3L283.2,252.3L286.3,256.5M256.1,212.2L257.8,214.4L259.6,216.8L261.5,219.4L263.5,222.1L265.6,224.9L267.9,228.0L270.2,231.1L272.7,234.5L275.2,238.0L277.9,241.6L280.7,245.4L283.6,249.4L286.7,253.5L289.8,257.8M258.9,212.3L260.6,214.7L262.4,217.1L264.4,219.8L266.5,222.5L268.6,225.5L270.9,228.6L273.4,231.8L275.9,235.3L278.5,238.8L281.2,242.6L284.1,246.4L287.1,250.5L290.2,254.7L293.4,259.0M261.6,212.5L263.4,214.9L265.3,217.4L267.3,220.2L269.4,223.0L271.7,226.0L274.0,229.2L276.5,232.6L279.1,236.0L281.8,239.7L284.6,243.5L287.5,247.5L290.5,251.6L293.7,255.9L296.9,260.3M264.4,212.7L266.2,215.1L268.2,217.8L270.2,220.6L272.4,223.5L274.7,226.6L277.1,229.9L279.6,233.3L282.3,236.8L285.0,240.6L287.9,244.4L290.9,248.5L293.9,252.7L297.1,257.0L300.5,261.5M267.1,212.8L269.0,215.4L271.1,218.1L273.2,221.0L275.4,224.0L277.8,227.2L280.2,230.5L282.8,234.0L285.5,237.6L288.3,241.4L291.2,245.4L294.2,249.5L297.4,253.8L300.6,258.2L304.0,262.8M269.9,213.0L271.8,215.6L273.9,218.4L276.1,221.3L278.4,224.4L280.8,227.7L283.3,231.1L285.9,234.7L288.7,238.4L291.6,242.3L294.5,246.3L297.6,250.5L300.8,254.9L304.1,259.4M272.6,213.1L274.7,215.9L276.8,218.7L279.0,221.7L281.4,224.9L283.8,228.3L286.4,231.8L289.1,235.4L291.9,239.2L294.8,243.2L297.8,247.3L301.0,251.6L304.2,256.0M275.4,213.3L277.5,216.1L279.7,219.0L281.9,222.1L284.4,225.4L286.9,228.8L289.5,232.4L292.2,236.1L295.1,240.0L298.1,244.0L301.2,248.2L304.4,252.6M278.2,213.5L280.3,216.3L282.5,219.4L284.9,222.5L287.3,225.9L289.9,229.4L292.6,233.0L295.4,236.8L298.3,240.8L301.3,244.9L304.5,249.2M280.9,213.6L283.1,216.6L285.4,219.7L287.8,222.9L290.3,226.4L292.9,229.9L295.7,233.6L298.6,237.5L301.5,241.6L304.6,245.8M283.7,213.8L285.9,216.8L288.3,220.0L290.7,223.3L293.3,226.8L296.0,230.5L298.8,234.3L301.7,238.2L304.7,242.4M286.4,214.0L288.7,217.1L291.1,220.3L293.6,223.7L296.3,227.3L299.0,231.0L301.9,234.9L304.9,238.9M289.2,214.1L291.5,217.3L294.0,220.6L296.6,224.1L299.3,227.8L302.1,231.6L305.0,235.5M291.9,214.3L294.3,217.5L296.9,221.0L299.5,224.5L302.2,228.3L305.1,232.1M294.7,214.4L297.1,217.8L299.7,221.3L302.4,224.9L305.2,228.7M297.4,214.6L300.0,218.0L302.6,221.6L305.3,225.3M300.2,214.8L302.8,218.3L305.5,221.9M302.9,214.9L305.6,218.5" stroke="#000" stroke-opacity="0.28" stroke-width="0.35" fill="none"/>
<polygon points="218.9,232.6 239.6,211.2 305.7,215.1 304.0,262.8" fill="none" stroke="#303030" stroke-width="0.8"/>
<path d="M239.6,211.2 L304,262.8 M218.9,232.6 L305.7,215.1" stroke="#1a1a1a" stroke-width="0.8" fill="none"/>
<path d="M239.6,211.2 Q278,229 303.2,262.3 M218.9,232.6 Q263.5,230 305.7,215.1" stroke="#d00000" stroke-width="0.9" fill="none"/>
<path d="M263.5,228 L263.5,222.5" stroke="#ff0000" stroke-width="1.2"/><path d="M261.3,224 L263.5,220.5 L265.7,224 Z" fill="#ff0000"/>
<path d="M532.8,181.7L535.5,181.8L534.1,183.4L531.3,183.2ZM514.7,199.4L518.1,200.5L516.6,202.1L513.2,200.9ZM513.2,200.9L516.6,202.1L515.1,203.6L511.7,202.4ZM535.5,181.8L538.3,181.9L536.8,183.6L534.1,183.4ZM518.1,200.5L521.4,201.6L520.0,203.2L516.6,202.1ZM516.6,202.1L520.0,203.2L518.6,204.9L515.1,203.6ZM538.3,181.9L541.0,182.0L539.6,183.8L536.8,183.6ZM521.4,201.6L524.7,202.7L523.4,204.4L520.0,203.2ZM520.0,203.2L523.4,204.4L522.0,206.1L518.6,204.9ZM541.0,182.0L543.7,182.1L542.4,183.9L539.6,183.8ZM523.4,204.4L526.8,205.5L525.5,207.3L522.0,206.1ZM543.7,182.1L546.4,182.3L545.2,184.1L542.4,183.9ZM526.8,205.5L530.2,206.7L528.9,208.6L525.5,207.3ZM546.4,182.3L549.2,182.4L548.0,184.3L545.2,184.1ZM530.2,206.7L533.6,207.8L532.4,209.8L528.9,208.6ZM549.2,182.4L551.9,182.5L550.7,184.5L548.0,184.3ZM551.9,182.5L554.6,182.6L553.5,184.7L550.7,184.5ZM538.1,207.0L541.4,208.0L540.3,210.2L536.9,209.0ZM554.6,182.6L557.3,182.7L556.3,184.9L553.5,184.7ZM541.4,208.0L544.8,209.1L543.7,211.3L540.3,210.2ZM545.8,206.9L549.1,207.9L548.1,210.2L544.8,209.1ZM550.1,205.6L553.3,206.5L552.4,208.9L549.1,207.9ZM549.1,207.9L552.4,208.9L551.5,211.3L548.1,210.2ZM554.3,204.2L557.5,205.0L556.6,207.5L553.3,206.5ZM553.3,206.5L556.6,207.5L555.7,209.9L552.4,208.9ZM552.4,208.9L555.7,209.9L554.8,212.3L551.5,211.3ZM557.5,205.0L560.7,205.8L559.8,208.4L556.6,207.5ZM556.6,207.5L559.8,208.4L559.0,210.9L555.7,209.9ZM561.5,203.3L564.6,204.1L563.9,206.7L560.7,205.8ZM560.7,205.8L563.9,206.7L563.1,209.3L559.8,208.4ZM559.8,208.4L563.1,209.3L562.3,211.9L559.0,210.9ZM564.6,204.1L567.8,204.8L567.0,207.5L563.9,206.7ZM563.9,206.7L567.0,207.5L566.3,210.2L563.1,209.3ZM563.1,209.3L566.3,210.2L565.6,212.9L562.3,211.9ZM567.8,204.8L570.9,205.6L570.2,208.3L567.0,207.5ZM567.0,207.5L570.2,208.3L569.5,211.1L566.3,210.2ZM566.3,210.2L569.5,211.1L568.8,213.9L565.6,212.9ZM570.9,205.6L574.0,206.3L573.4,209.2L570.2,208.3ZM570.2,208.3L573.4,209.2L572.8,212.0L569.5,211.1ZM569.5,211.1L572.8,212.0L572.1,214.9L568.8,213.9ZM574.0,206.3L577.2,207.1L576.6,210.0L573.4,209.2ZM573.4,209.2L576.6,210.0L576.0,212.9L572.8,212.0ZM577.2,207.1L580.3,207.8L579.8,210.8L576.6,210.0ZM576.6,210.0L579.8,210.8L579.2,213.8L576.0,212.9ZM580.3,207.8L583.5,208.6L583.0,211.7L579.8,210.8ZM579.8,210.8L583.0,211.7L582.5,214.8L579.2,213.8ZM583.5,208.6L586.6,209.3L586.2,212.5L583.0,211.7ZM583.0,211.7L586.2,212.5L585.7,215.7L582.5,214.8ZM586.6,209.3L589.7,210.1L589.3,213.3L586.2,212.5ZM586.2,212.5L589.3,213.3L589.0,216.6L585.7,215.7ZM589.7,210.1L592.9,210.9L592.5,214.2L589.3,213.3ZM589.3,213.3L592.5,214.2L592.2,217.5L589.0,216.6ZM593.2,207.5L596.3,208.2L596.0,211.6L592.9,210.9ZM592.9,210.9L596.0,211.6L595.7,215.0L592.5,214.2ZM598.2,184.4L601.0,184.5L600.7,188.0L598.0,187.8ZM597.4,194.6L600.3,194.9L600.1,198.4L597.1,198.0ZM597.1,198.0L600.1,198.4L599.8,201.9L596.8,201.4ZM596.8,201.4L599.8,201.9L599.6,205.4L596.6,204.8ZM596.6,204.8L599.6,205.4L599.4,208.9L596.3,208.2ZM601.0,184.5L603.7,184.6L603.5,188.2L600.7,188.0Z" fill="#76d800" stroke="#76d800" stroke-width="0.6"/><path d="M531.3,183.2L534.1,183.4L532.6,184.9L529.8,184.7ZM529.8,184.7L532.6,184.9L531.2,186.5L528.3,186.1ZM528.3,186.1L531.2,186.5L529.7,188.0L526.8,187.6ZM526.8,187.6L529.7,188.0L528.2,189.6L525.3,189.1ZM525.3,189.1L528.2,189.6L526.8,191.2L523.8,190.6ZM523.8,190.6L526.8,191.2L525.3,192.7L522.2,192.1ZM522.2,192.1L525.3,192.7L523.9,194.3L520.7,193.5ZM520.7,193.5L523.9,194.3L522.4,195.8L519.2,195.0ZM519.2,195.0L522.4,195.8L521.0,197.4L517.7,196.5ZM517.7,196.5L521.0,197.4L519.5,199.0L516.2,198.0ZM516.2,198.0L519.5,199.0L518.1,200.5L514.7,199.4ZM534.1,183.4L536.8,183.6L535.4,185.2L532.6,184.9ZM532.6,184.9L535.4,185.2L534.0,186.8L531.2,186.5ZM531.2,186.5L534.0,186.8L532.6,188.5L529.7,188.0ZM529.7,188.0L532.6,188.5L531.2,190.1L528.2,189.6ZM528.2,189.6L531.2,190.1L529.8,191.8L526.8,191.2ZM526.8,191.2L529.8,191.8L528.4,193.4L525.3,192.7ZM525.3,192.7L528.4,193.4L527.0,195.0L523.9,194.3ZM523.9,194.3L527.0,195.0L525.6,196.7L522.4,195.8ZM522.4,195.8L525.6,196.7L524.2,198.3L521.0,197.4ZM521.0,197.4L524.2,198.3L522.8,200.0L519.5,199.0ZM519.5,199.0L522.8,200.0L521.4,201.6L518.1,200.5ZM536.8,183.6L539.6,183.8L538.3,185.5L535.4,185.2ZM535.4,185.2L538.3,185.5L536.9,187.2L534.0,186.8ZM534.0,186.8L536.9,187.2L535.6,188.9L532.6,188.5ZM532.6,188.5L535.6,188.9L534.2,190.6L531.2,190.1ZM531.2,190.1L534.2,190.6L532.9,192.3L529.8,191.8ZM529.8,191.8L532.9,192.3L531.5,194.1L528.4,193.4ZM522.8,200.0L526.1,200.9L524.7,202.7L521.4,201.6ZM539.6,183.8L542.4,183.9L541.1,185.7L538.3,185.5ZM538.3,185.5L541.1,185.7L539.8,187.5L536.9,187.2ZM536.9,187.2L539.8,187.5L538.5,189.3L535.6,188.9ZM535.6,188.9L538.5,189.3L537.2,191.1L534.2,190.6ZM534.2,190.6L537.2,191.1L535.9,192.9L532.9,192.3ZM524.7,202.7L528.1,203.7L526.8,205.5L523.4,204.4ZM542.4,183.9L545.2,184.1L543.9,186.0L541.1,185.7ZM541.1,185.7L543.9,186.0L542.7,187.9L539.8,187.5ZM539.8,187.5L542.7,187.9L541.4,189.8L538.5,189.3ZM538.5,189.3L541.4,189.8L540.2,191.7L537.2,191.1ZM528.1,203.7L531.4,204.8L530.2,206.7L526.8,205.5ZM545.2,184.1L548.0,184.3L546.8,186.3L543.9,186.0ZM543.9,186.0L546.8,186.3L545.6,188.2L542.7,187.9ZM542.7,187.9L545.6,188.2L544.4,190.2L541.4,189.8ZM541.4,189.8L544.4,190.2L543.2,192.2L540.2,191.7ZM531.4,204.8L534.8,205.9L533.6,207.8L530.2,206.7ZM548.0,184.3L550.7,184.5L549.6,186.6L546.8,186.3ZM546.8,186.3L549.6,186.6L548.4,188.6L545.6,188.2ZM545.6,188.2L548.4,188.6L547.3,190.6L544.4,190.2ZM544.4,190.2L547.3,190.6L546.1,192.7L543.2,192.2ZM534.8,205.9L538.1,207.0L536.9,209.0L533.6,207.8ZM550.7,184.5L553.5,184.7L552.4,186.8L549.6,186.6ZM549.6,186.6L552.4,186.8L551.3,189.0L548.4,188.6ZM548.4,188.6L551.3,189.0L550.2,191.1L547.3,190.6ZM547.3,190.6L550.2,191.1L549.1,193.2L546.1,192.7ZM553.5,184.7L556.3,184.9L555.2,187.1L552.4,186.8ZM552.4,186.8L555.2,187.1L554.2,189.3L551.3,189.0ZM551.3,189.0L554.2,189.3L553.2,191.5L550.2,191.1ZM550.2,191.1L553.2,191.5L552.1,193.7L549.1,193.2ZM542.5,205.9L545.8,206.9L544.8,209.1L541.4,208.0ZM557.3,182.7L560.1,182.8L559.1,185.1L556.3,184.9ZM556.3,184.9L559.1,185.1L558.1,187.4L555.2,187.1ZM555.2,187.1L558.1,187.4L557.1,189.7L554.2,189.3ZM554.2,189.3L557.1,189.7L556.1,191.9L553.2,191.5ZM553.2,191.5L556.1,191.9L555.1,194.2L552.1,193.7ZM552.1,193.7L555.1,194.2L554.1,196.5L551.1,195.9ZM546.9,204.7L550.1,205.6L549.1,207.9L545.8,206.9ZM560.1,182.8L562.8,182.9L561.9,185.3L559.1,185.1ZM559.1,185.1L561.9,185.3L560.9,187.6L558.1,187.4ZM558.1,187.4L560.9,187.6L560.0,190.0L557.1,189.7ZM557.1,189.7L560.0,190.0L559.0,192.4L556.1,191.9ZM556.1,191.9L559.0,192.4L558.1,194.7L555.1,194.2ZM555.1,194.2L558.1,194.7L557.1,197.1L554.1,196.5ZM554.1,196.5L557.1,197.1L556.2,199.5L553.1,198.8ZM551.1,203.3L554.3,204.2L553.3,206.5L550.1,205.6ZM562.8,182.9L565.5,183.0L564.6,185.5L561.9,185.3ZM561.9,185.3L564.6,185.5L563.7,187.9L560.9,187.6ZM560.9,187.6L563.7,187.9L562.8,190.4L560.0,190.0ZM560.0,190.0L562.8,190.4L561.9,192.8L559.0,192.4ZM559.0,192.4L561.9,192.8L561.1,195.2L558.1,194.7ZM558.1,194.7L561.1,195.2L560.2,197.7L557.1,197.1ZM557.1,197.1L560.2,197.7L559.3,200.1L556.2,199.5ZM556.2,199.5L559.3,200.1L558.4,202.6L555.2,201.8ZM555.2,201.8L558.4,202.6L557.5,205.0L554.3,204.2ZM565.5,183.0L568.2,183.1L567.4,185.7L564.6,185.5ZM564.6,185.5L567.4,185.7L566.6,188.2L563.7,187.9ZM563.7,187.9L566.6,188.2L565.7,190.7L562.8,190.4ZM562.8,190.4L565.7,190.7L564.9,193.2L561.9,192.8ZM561.9,192.8L564.9,193.2L564.0,195.8L561.1,195.2ZM561.1,195.2L564.0,195.8L563.2,198.3L560.2,197.7ZM560.2,197.7L563.2,198.3L562.4,200.8L559.3,200.1ZM559.3,200.1L562.4,200.8L561.5,203.3L558.4,202.6ZM558.4,202.6L561.5,203.3L560.7,205.8L557.5,205.0ZM568.2,183.1L571.0,183.3L570.2,185.9L567.4,185.7ZM567.4,185.7L570.2,185.9L569.4,188.5L566.6,188.2ZM566.6,188.2L569.4,188.5L568.6,191.1L565.7,190.7ZM565.7,190.7L568.6,191.1L567.8,193.7L564.9,193.2ZM564.9,193.2L567.8,193.7L567.0,196.3L564.0,195.8ZM564.0,195.8L567.0,196.3L566.2,198.9L563.2,198.3ZM563.2,198.3L566.2,198.9L565.4,201.5L562.4,200.8ZM562.4,200.8L565.4,201.5L564.6,204.1L561.5,203.3ZM571.0,183.3L573.7,183.4L573.0,186.1L570.2,185.9ZM567.8,193.7L570.7,194.1L570.0,196.8L567.0,196.3ZM567.0,196.3L570.0,196.8L569.3,199.5L566.2,198.9ZM566.2,198.9L569.3,199.5L568.5,202.1L565.4,201.5ZM565.4,201.5L568.5,202.1L567.8,204.8L564.6,204.1ZM573.7,183.4L576.4,183.5L575.7,186.2L573.0,186.1ZM570.0,196.8L573.0,197.3L572.3,200.1L569.3,199.5ZM569.3,199.5L572.3,200.1L571.6,202.8L568.5,202.1ZM568.5,202.1L571.6,202.8L570.9,205.6L567.8,204.8ZM573.0,197.3L576.0,197.8L575.3,200.7L572.3,200.1ZM572.3,200.1L575.3,200.7L574.7,203.5L571.6,202.8ZM571.6,202.8L574.7,203.5L574.0,206.3L570.9,205.6ZM576.0,197.8L578.9,198.3L578.4,201.2L575.3,200.7ZM575.3,200.7L578.4,201.2L577.8,204.2L574.7,203.5ZM574.7,203.5L577.8,204.2L577.2,207.1L574.0,206.3ZM578.9,198.3L581.9,198.8L581.4,201.8L578.4,201.2ZM578.4,201.2L581.4,201.8L580.9,204.8L577.8,204.2ZM577.8,204.2L580.9,204.8L580.3,207.8L577.2,207.1ZM581.9,198.8L584.9,199.3L584.4,202.4L581.4,201.8ZM581.4,201.8L584.4,202.4L583.9,205.5L580.9,204.8ZM580.9,204.8L583.9,205.5L583.5,208.6L580.3,207.8ZM585.4,196.3L588.3,196.7L587.9,199.9L584.9,199.3ZM584.9,199.3L587.9,199.9L587.5,203.0L584.4,202.4ZM584.4,202.4L587.5,203.0L587.0,206.2L583.9,205.5ZM583.9,205.5L587.0,206.2L586.6,209.3L583.5,208.6ZM588.3,196.7L591.3,197.1L590.9,200.4L587.9,199.9ZM587.9,199.9L590.9,200.4L590.5,203.6L587.5,203.0ZM587.5,203.0L590.5,203.6L590.1,206.9L587.0,206.2ZM587.0,206.2L590.1,206.9L589.7,210.1L586.6,209.3ZM592.8,184.2L595.5,184.3L595.2,187.6L592.4,187.4ZM591.3,197.1L594.2,197.6L593.9,200.9L590.9,200.4ZM590.9,200.4L593.9,200.9L593.5,204.2L590.5,203.6ZM590.5,203.6L593.5,204.2L593.2,207.5L590.1,206.9ZM590.1,206.9L593.2,207.5L592.9,210.9L589.7,210.1ZM595.5,184.3L598.2,184.4L598.0,187.8L595.2,187.6ZM594.5,194.2L597.4,194.6L597.1,198.0L594.2,197.6ZM594.2,197.6L597.1,198.0L596.8,201.4L593.9,200.9ZM593.9,200.9L596.8,201.4L596.6,204.8L593.5,204.2ZM593.5,204.2L596.6,204.8L596.3,208.2L593.2,207.5ZM598.0,187.8L600.7,188.0L600.5,191.5L597.7,191.2ZM597.7,191.2L600.5,191.5L600.3,194.9L597.4,194.6Z" fill="#27d800" stroke="#27d800" stroke-width="0.6"/><path d="M528.4,193.4L531.5,194.1L530.1,195.8L527.0,195.0ZM527.0,195.0L530.1,195.8L528.8,197.5L525.6,196.7ZM525.6,196.7L528.8,197.5L527.4,199.2L524.2,198.3ZM524.2,198.3L527.4,199.2L526.1,200.9L522.8,200.0ZM532.9,192.3L535.9,192.9L534.6,194.7L531.5,194.1ZM526.1,200.9L529.4,201.9L528.1,203.7L524.7,202.7ZM537.2,191.1L540.2,191.7L538.9,193.5L535.9,192.9ZM529.4,201.9L532.7,202.9L531.4,204.8L528.1,203.7ZM540.2,191.7L543.2,192.2L542.0,194.1L538.9,193.5ZM543.2,192.2L546.1,192.7L545.0,194.7L542.0,194.1ZM536.0,203.9L539.2,204.9L538.1,207.0L534.8,205.9ZM546.1,192.7L549.1,193.2L548.0,195.3L545.0,194.7ZM539.2,204.9L542.5,205.9L541.4,208.0L538.1,207.0ZM549.1,193.2L552.1,193.7L551.1,195.9L548.0,195.3ZM543.6,203.8L546.9,204.7L545.8,206.9L542.5,205.9ZM551.1,195.9L554.1,196.5L553.1,198.8L550.0,198.1ZM547.9,202.5L551.1,203.3L550.1,205.6L546.9,204.7ZM553.1,198.8L556.2,199.5L555.2,201.8L552.1,201.1ZM552.1,201.1L555.2,201.8L554.3,204.2L551.1,203.3ZM570.2,185.9L573.0,186.1L572.2,188.7L569.4,188.5ZM569.4,188.5L572.2,188.7L571.5,191.4L568.6,191.1ZM568.6,191.1L571.5,191.4L570.7,194.1L567.8,193.7ZM570.7,194.1L573.7,194.5L573.0,197.3L570.0,196.8ZM576.4,183.5L579.2,183.6L578.5,186.4L575.7,186.2ZM573.7,194.5L576.6,195.0L576.0,197.8L573.0,197.3ZM579.2,183.6L581.9,183.7L581.3,186.6L578.5,186.4ZM576.6,195.0L579.5,195.4L578.9,198.3L576.0,197.8ZM581.9,183.7L584.6,183.8L584.1,186.8L581.3,186.6ZM579.5,195.4L582.5,195.8L581.9,198.8L578.9,198.3ZM584.6,183.8L587.3,183.9L586.9,187.0L584.1,186.8ZM582.5,195.8L585.4,196.3L584.9,199.3L581.9,198.8ZM587.3,183.9L590.1,184.0L589.6,187.2L586.9,187.0ZM590.1,184.0L592.8,184.2L592.4,187.4L589.6,187.2ZM591.6,193.9L594.5,194.2L594.2,197.6L591.3,197.1ZM595.2,187.6L598.0,187.8L597.7,191.2L594.9,190.9ZM594.9,190.9L597.7,191.2L597.4,194.6L594.5,194.2Z" fill="#00d827" stroke="#00d827" stroke-width="0.6"/><path d="M531.5,194.1L534.6,194.7L533.3,196.5L530.1,195.8ZM530.1,195.8L533.3,196.5L532.0,198.3L528.8,197.5ZM528.8,197.5L532.0,198.3L530.7,200.1L527.4,199.2ZM527.4,199.2L530.7,200.1L529.4,201.9L526.1,200.9ZM535.9,192.9L538.9,193.5L537.7,195.4L534.6,194.7ZM530.7,200.1L533.9,201.1L532.7,202.9L529.4,201.9ZM538.9,193.5L542.0,194.1L540.8,196.1L537.7,195.4ZM532.7,202.9L536.0,203.9L534.8,205.9L531.4,204.8ZM545.0,194.7L548.0,195.3L546.9,197.4L543.8,196.8ZM540.4,202.9L543.6,203.8L542.5,205.9L539.2,204.9ZM548.0,195.3L551.1,195.9L550.0,198.1L546.9,197.4ZM544.7,201.7L547.9,202.5L546.9,204.7L543.6,203.8ZM550.0,198.1L553.1,198.8L552.1,201.1L549.0,200.3ZM549.0,200.3L552.1,201.1L551.1,203.3L547.9,202.5ZM573.0,186.1L575.7,186.2L575.1,189.0L572.2,188.7ZM572.2,188.7L575.1,189.0L574.4,191.8L571.5,191.4ZM571.5,191.4L574.4,191.8L573.7,194.5L570.7,194.1ZM588.8,193.5L591.6,193.9L591.3,197.1L588.3,196.7ZM592.4,187.4L595.2,187.6L594.9,190.9L592.0,190.6ZM592.0,190.6L594.9,190.9L594.5,194.2L591.6,193.9Z" fill="#00d876" stroke="#00d876" stroke-width="0.6"/><path d="M534.6,194.7L537.7,195.4L536.4,197.3L533.3,196.5ZM533.3,196.5L536.4,197.3L535.2,199.2L532.0,198.3ZM532.0,198.3L535.2,199.2L533.9,201.1L530.7,200.1ZM537.7,195.4L540.8,196.1L539.6,198.0L536.4,197.3ZM536.4,197.3L539.6,198.0L538.4,200.0L535.2,199.2ZM535.2,199.2L538.4,200.0L537.2,202.0L533.9,201.1ZM533.9,201.1L537.2,202.0L536.0,203.9L532.7,202.9ZM542.0,194.1L545.0,194.7L543.8,196.8L540.8,196.1ZM540.8,196.1L543.8,196.8L542.7,198.8L539.6,198.0ZM539.6,198.0L542.7,198.8L541.5,200.8L538.4,200.0ZM538.4,200.0L541.5,200.8L540.4,202.9L537.2,202.0ZM537.2,202.0L540.4,202.9L539.2,204.9L536.0,203.9ZM543.8,196.8L546.9,197.4L545.8,199.6L542.7,198.8ZM542.7,198.8L545.8,199.6L544.7,201.7L541.5,200.8ZM541.5,200.8L544.7,201.7L543.6,203.8L540.4,202.9ZM546.9,197.4L550.0,198.1L549.0,200.3L545.8,199.6ZM545.8,199.6L549.0,200.3L547.9,202.5L544.7,201.7ZM575.7,186.2L578.5,186.4L577.9,189.3L575.1,189.0ZM575.1,189.0L577.9,189.3L577.2,192.1L574.4,191.8ZM574.4,191.8L577.2,192.1L576.6,195.0L573.7,194.5ZM578.5,186.4L581.3,186.6L580.7,189.6L577.9,189.3ZM577.9,189.3L580.7,189.6L580.1,192.5L577.2,192.1ZM577.2,192.1L580.1,192.5L579.5,195.4L576.6,195.0ZM581.3,186.6L584.1,186.8L583.5,189.8L580.7,189.6ZM580.7,189.6L583.5,189.8L583.0,192.8L580.1,192.5ZM580.1,192.5L583.0,192.8L582.5,195.8L579.5,195.4ZM584.1,186.8L586.9,187.0L586.4,190.1L583.5,189.8ZM583.5,189.8L586.4,190.1L585.9,193.2L583.0,192.8ZM583.0,192.8L585.9,193.2L585.4,196.3L582.5,195.8ZM586.9,187.0L589.6,187.2L589.2,190.4L586.4,190.1ZM586.4,190.1L589.2,190.4L588.8,193.5L585.9,193.2ZM585.9,193.2L588.8,193.5L588.3,196.7L585.4,196.3ZM589.6,187.2L592.4,187.4L592.0,190.6L589.2,190.4ZM589.2,190.4L592.0,190.6L591.6,193.9L588.8,193.5Z" fill="#00d8c5" stroke="#00d8c5" stroke-width="0.6"/><path d="M533.6,207.8L536.9,209.0L535.8,211.0L532.4,209.8ZM536.9,209.0L540.3,210.2L539.2,212.3L535.8,211.0ZM540.3,210.2L543.7,211.3L542.7,213.5L539.2,212.3ZM544.8,209.1L548.1,210.2L547.1,212.5L543.7,211.3ZM543.7,211.3L547.1,212.5L546.1,214.7L542.7,213.5ZM548.1,210.2L551.5,211.3L550.5,213.6L547.1,212.5ZM547.1,212.5L550.5,213.6L549.6,216.0L546.1,214.7ZM551.5,211.3L554.8,212.3L553.9,214.8L550.5,213.6ZM550.5,213.6L553.9,214.8L553.0,217.2L549.6,216.0ZM555.7,209.9L559.0,210.9L558.1,213.4L554.8,212.3ZM554.8,212.3L558.1,213.4L557.3,215.9L553.9,214.8ZM559.0,210.9L562.3,211.9L561.5,214.5L558.1,213.4ZM558.1,213.4L561.5,214.5L560.7,217.1L557.3,215.9ZM562.3,211.9L565.6,212.9L564.8,215.6L561.5,214.5ZM561.5,214.5L564.8,215.6L564.1,218.2L560.7,217.1ZM565.6,212.9L568.8,213.9L568.2,216.6L564.8,215.6ZM564.8,215.6L568.2,216.6L567.5,219.4L564.1,218.2ZM568.8,213.9L572.1,214.9L571.5,217.7L568.2,216.6ZM572.8,212.0L576.0,212.9L575.4,215.9L572.1,214.9ZM572.1,214.9L575.4,215.9L574.8,218.8L571.5,217.7ZM576.0,212.9L579.2,213.8L578.7,216.8L575.4,215.9ZM575.4,215.9L578.7,216.8L578.2,219.9L574.8,218.8ZM579.2,213.8L582.5,214.8L582.0,217.8L578.7,216.8ZM578.7,216.8L582.0,217.8L581.5,220.9L578.2,219.9ZM582.5,214.8L585.7,215.7L585.3,218.8L582.0,217.8ZM582.0,217.8L585.3,218.8L584.9,222.0L581.5,220.9ZM585.7,215.7L589.0,216.6L588.6,219.8L585.3,218.8ZM585.3,218.8L588.6,219.8L588.2,223.1L584.9,222.0ZM589.0,216.6L592.2,217.5L591.9,220.8L588.6,219.8ZM588.6,219.8L591.9,220.8L591.5,224.1L588.2,223.1ZM592.5,214.2L595.7,215.0L595.4,218.4L592.2,217.5ZM592.2,217.5L595.4,218.4L595.2,221.8L591.9,220.8ZM596.3,208.2L599.4,208.9L599.1,212.4L596.0,211.6ZM596.0,211.6L599.1,212.4L598.9,215.8L595.7,215.0ZM600.7,188.0L603.5,188.2L603.3,191.7L600.5,191.5ZM600.5,191.5L603.3,191.7L603.2,195.3L600.3,194.9ZM600.3,194.9L603.2,195.3L603.0,198.9L600.1,198.4ZM600.1,198.4L603.0,198.9L602.8,202.4L599.8,201.9ZM599.8,201.9L602.8,202.4L602.6,206.0L599.6,205.4Z" fill="#c5d800" stroke="#c5d800" stroke-width="0.6"/><path d="M553.9,214.8L557.3,215.9L556.5,218.4L553.0,217.2ZM557.3,215.9L560.7,217.1L559.9,219.7L556.5,218.4ZM560.7,217.1L564.1,218.2L563.3,220.9L559.9,219.7ZM564.1,218.2L567.5,219.4L566.8,222.2L563.3,220.9ZM568.2,216.6L571.5,217.7L570.9,220.5L567.5,219.4ZM567.5,219.4L570.9,220.5L570.2,223.4L566.8,222.2ZM571.5,217.7L574.8,218.8L574.2,221.7L570.9,220.5ZM570.9,220.5L574.2,221.7L573.7,224.6L570.2,223.4ZM574.8,218.8L578.2,219.9L577.6,222.9L574.2,221.7ZM574.2,221.7L577.6,222.9L577.1,225.9L573.7,224.6ZM578.2,219.9L581.5,220.9L581.0,224.0L577.6,222.9ZM581.5,220.9L584.9,222.0L584.4,225.2L581.0,224.0ZM584.9,222.0L588.2,223.1L587.8,226.3L584.4,225.2ZM588.2,223.1L591.5,224.1L591.2,227.5L587.8,226.3ZM591.9,220.8L595.2,221.8L594.9,225.2L591.5,224.1ZM595.7,215.0L598.9,215.8L598.7,219.3L595.4,218.4ZM595.4,218.4L598.7,219.3L598.4,222.8L595.2,221.8ZM599.6,205.4L602.6,206.0L602.5,209.6L599.4,208.9ZM599.4,208.9L602.5,209.6L602.3,213.1L599.1,212.4Z" fill="#d89d00" stroke="#d89d00" stroke-width="0.6"/><path d="M577.6,222.9L581.0,224.0L580.5,227.1L577.1,225.9ZM581.0,224.0L584.4,225.2L584.0,228.3L580.5,227.1ZM584.4,225.2L587.8,226.3L587.4,229.6L584.0,228.3ZM587.8,226.3L591.2,227.5L590.9,230.8L587.4,229.6ZM591.5,224.1L594.9,225.2L594.6,228.6L591.2,227.5ZM591.2,227.5L594.6,228.6L594.3,232.0L590.9,230.8ZM595.2,221.8L598.4,222.8L598.2,226.3L594.9,225.2ZM599.1,212.4L602.3,213.1L602.1,216.7L598.9,215.8ZM598.9,215.8L602.1,216.7L601.9,220.2L598.7,219.3Z" fill="#d84f00" stroke="#d84f00" stroke-width="0.6"/><path d="M594.9,225.2L598.2,226.3L598.0,229.8L594.6,228.6ZM594.6,228.6L598.0,229.8L597.8,233.3L594.3,232.0ZM598.7,219.3L601.9,220.2L601.7,223.8L598.4,222.8ZM598.4,222.8L601.7,223.8L601.6,227.4L598.2,226.3ZM598.2,226.3L601.6,227.4L601.4,230.9L598.0,229.8ZM598.0,229.8L601.4,230.9L601.2,234.5L597.8,233.3Z" fill="#d80000" stroke="#d80000" stroke-width="0.6"/><path d="M535.5,181.8L515.1,203.6M538.3,181.9L518.6,204.9M541.0,182.0L522.0,206.1M543.7,182.1L525.5,207.3M546.4,182.3L528.9,208.6M549.2,182.4L532.4,209.8M551.9,182.5L535.8,211.0M554.6,182.6L539.2,212.3M557.3,182.7L542.7,213.5M560.1,182.8L546.1,214.7M562.8,182.9L549.6,216.0M565.5,183.0L553.0,217.2M568.2,183.1L556.5,218.4M571.0,183.3L559.9,219.7M573.7,183.4L563.3,220.9M576.4,183.5L566.8,222.2M579.2,183.6L570.2,223.4M581.9,183.7L573.7,224.6M584.6,183.8L577.1,225.9M587.3,183.9L580.5,227.1M590.1,184.0L584.0,228.3M592.8,184.2L587.4,229.6M595.5,184.3L590.9,230.8M598.2,184.4L594.3,232.0M601.0,184.5L597.8,233.3M531.3,183.2L603.5,188.2M529.8,184.7L603.3,191.7M528.3,186.1L603.2,195.3M526.8,187.6L603.0,198.9M525.3,189.1L602.8,202.4M523.8,190.6L602.6,206.0M522.2,192.1L602.5,209.6M520.7,193.5L602.3,213.1M519.2,195.0L602.1,216.7M517.7,196.5L601.9,220.2M516.2,198.0L601.7,223.8M514.7,199.4L601.6,227.4M513.2,200.9L601.4,230.9M513.2,200.9L515.1,203.6M514.7,199.4L516.6,202.1L518.6,204.9M516.2,198.0L518.1,200.5L520.0,203.2L522.0,206.1M517.7,196.5L519.5,199.0L521.4,201.6L523.4,204.4L525.5,207.3M519.2,195.0L521.0,197.4L522.8,200.0L524.7,202.7L526.8,205.5L528.9,208.6M520.7,193.5L522.4,195.8L524.2,198.3L526.1,200.9L528.1,203.7L530.2,206.7L532.4,209.8M522.2,192.1L523.9,194.3L525.6,196.7L527.4,199.2L529.4,201.9L531.4,204.8L533.6,207.8L535.8,211.0M523.8,190.6L525.3,192.7L527.0,195.0L528.8,197.5L530.7,200.1L532.7,202.9L534.8,205.9L536.9,209.0L539.2,212.3M525.3,189.1L526.8,191.2L528.4,193.4L530.1,195.8L532.0,198.3L533.9,201.1L536.0,203.9L538.1,207.0L540.3,210.2L542.7,213.5M526.8,187.6L528.2,189.6L529.8,191.8L531.5,194.1L533.3,196.5L535.2,199.2L537.2,202.0L539.2,204.9L541.4,208.0L543.7,211.3L546.1,214.7M528.3,186.1L529.7,188.0L531.2,190.1L532.9,192.3L534.6,194.7L536.4,197.3L538.4,200.0L540.4,202.9L542.5,205.9L544.8,209.1L547.1,212.5L549.6,216.0M529.8,184.7L531.2,186.5L532.6,188.5L534.2,190.6L535.9,192.9L537.7,195.4L539.6,198.0L541.5,200.8L543.6,203.8L545.8,206.9L548.1,210.2L550.5,213.6L553.0,217.2M531.3,183.2L532.6,184.9L534.0,186.8L535.6,188.9L537.2,191.1L538.9,193.5L540.8,196.1L542.7,198.8L544.7,201.7L546.9,204.7L549.1,207.9L551.5,211.3L553.9,214.8L556.5,218.4M532.8,181.7L534.1,183.4L535.4,185.2L536.9,187.2L538.5,189.3L540.2,191.7L542.0,194.1L543.8,196.8L545.8,199.6L547.9,202.5L550.1,205.6L552.4,208.9L554.8,212.3L557.3,215.9L559.9,219.7M535.5,181.8L536.8,183.6L538.3,185.5L539.8,187.5L541.4,189.8L543.2,192.2L545.0,194.7L546.9,197.4L549.0,200.3L551.1,203.3L553.3,206.5L555.7,209.9L558.1,213.4L560.7,217.1L563.3,220.9M538.3,181.9L539.6,183.8L541.1,185.7L542.7,187.9L544.4,190.2L546.1,192.7L548.0,195.3L550.0,198.1L552.1,201.1L554.3,204.2L556.6,207.5L559.0,210.9L561.5,214.5L564.1,218.2L566.8,222.2M541.0,182.0L542.4,183.9L543.9,186.0L545.6,188.2L547.3,190.6L549.1,193.2L551.1,195.9L553.1,198.8L555.2,201.8L557.5,205.0L559.8,208.4L562.3,211.9L564.8,215.6L567.5,219.4L570.2,223.4M543.7,182.1L545.2,184.1L546.8,186.3L548.4,188.6L550.2,191.1L552.1,193.7L554.1,196.5L556.2,199.5L558.4,202.6L560.7,205.8L563.1,209.3L565.6,212.9L568.2,216.6L570.9,220.5L573.7,224.6M546.4,182.3L548.0,184.3L549.6,186.6L551.3,189.0L553.2,191.5L555.1,194.2L557.1,197.1L559.3,200.1L561.5,203.3L563.9,206.7L566.3,210.2L568.8,213.9L571.5,217.7L574.2,221.7L577.1,225.9M549.2,182.4L550.7,184.5L552.4,186.8L554.2,189.3L556.1,191.9L558.1,194.7L560.2,197.7L562.4,200.8L564.6,204.1L567.0,207.5L569.5,211.1L572.1,214.9L574.8,218.8L577.6,222.9L580.5,227.1M551.9,182.5L553.5,184.7L555.2,187.1L557.1,189.7L559.0,192.4L561.1,195.2L563.2,198.3L565.4,201.5L567.8,204.8L570.2,208.3L572.8,212.0L575.4,215.9L578.2,219.9L581.0,224.0L584.0,228.3M554.6,182.6L556.3,184.9L558.1,187.4L560.0,190.0L561.9,192.8L564.0,195.8L566.2,198.9L568.5,202.1L570.9,205.6L573.4,209.2L576.0,212.9L578.7,216.8L581.5,220.9L584.4,225.2L587.4,229.6M557.3,182.7L559.1,185.1L560.9,187.6L562.8,190.4L564.9,193.2L567.0,196.3L569.3,199.5L571.6,202.8L574.0,206.3L576.6,210.0L579.2,213.8L582.0,217.8L584.9,222.0L587.8,226.3L590.9,230.8M560.1,182.8L561.9,185.3L563.7,187.9L565.7,190.7L567.8,193.7L570.0,196.8L572.3,200.1L574.7,203.5L577.2,207.1L579.8,210.8L582.5,214.8L585.3,218.8L588.2,223.1L591.2,227.5L594.3,232.0M562.8,182.9L564.6,185.5L566.6,188.2L568.6,191.1L570.7,194.1L573.0,197.3L575.3,200.7L577.8,204.2L580.3,207.8L583.0,211.7L585.7,215.7L588.6,219.8L591.5,224.1L594.6,228.6L597.8,233.3M565.5,183.0L567.4,185.7L569.4,188.5L571.5,191.4L573.7,194.5L576.0,197.8L578.4,201.2L580.9,204.8L583.5,208.6L586.2,212.5L589.0,216.6L591.9,220.8L594.9,225.2L598.0,229.8L601.2,234.5M568.2,183.1L570.2,185.9L572.2,188.7L574.4,191.8L576.6,195.0L578.9,198.3L581.4,201.8L583.9,205.5L586.6,209.3L589.3,213.3L592.2,217.5L595.2,221.8L598.2,226.3L601.4,230.9M571.0,183.3L573.0,186.1L575.1,189.0L577.2,192.1L579.5,195.4L581.9,198.8L584.4,202.4L587.0,206.2L589.7,210.1L592.5,214.2L595.4,218.4L598.4,222.8L601.6,227.4M573.7,183.4L575.7,186.2L577.9,189.3L580.1,192.5L582.5,195.8L584.9,199.3L587.5,203.0L590.1,206.9L592.9,210.9L595.7,215.0L598.7,219.3L601.7,223.8M576.4,183.5L578.5,186.4L580.7,189.6L583.0,192.8L585.4,196.3L587.9,199.9L590.5,203.6L593.2,207.5L596.0,211.6L598.9,215.8L601.9,220.2M579.2,183.6L581.3,186.6L583.5,189.8L585.9,193.2L588.3,196.7L590.9,200.4L593.5,204.2L596.3,208.2L599.1,212.4L602.1,216.7M581.9,183.7L584.1,186.8L586.4,190.1L588.8,193.5L591.3,197.1L593.9,200.9L596.6,204.8L599.4,208.9L602.3,213.1M584.6,183.8L586.9,187.0L589.2,190.4L591.6,193.9L594.2,197.6L596.8,201.4L599.6,205.4L602.5,209.6M587.3,183.9L589.6,187.2L592.0,190.6L594.5,194.2L597.1,198.0L599.8,201.9L602.6,206.0M590.1,184.0L592.4,187.4L594.9,190.9L597.4,194.6L600.1,198.4L602.8,202.4M592.8,184.2L595.2,187.6L597.7,191.2L600.3,194.9L603.0,198.9M595.5,184.3L598.0,187.8L600.5,191.5L603.2,195.3M598.2,184.4L600.7,188.0L603.3,191.7M601.0,184.5L603.5,188.2" stroke="#000" stroke-opacity="0.28" stroke-width="0.35" fill="none"/>
<polygon points="511.7,202.4 532.8,181.7 603.7,184.6 601.2,234.5" fill="none" stroke="#303030" stroke-width="0.8"/>
<path d="M511.7,202.4 L606.3,217.3 L603.7,184.6" stroke="#1a1a1a" stroke-width="0.8" fill="none"/>
<path d="M603.3,217.5 L602.2,227" stroke="#ff0000" stroke-width="1.2"/><path d="M599.8,225.8 L602,231 L604.6,226.3 Z" fill="#ff0000"/>
<path d="M532.8,181.7 L532,173.5 M532.8,181.7 L545,181.2 M532.8,181.7 L528.5,185" stroke="#ff2020" stroke-width="1.3" fill="none"/>
<path d="M529.8,174.5 L531.8,170.5 L534.2,174.2 Z M544.5,179 L548.3,181.1 L544.6,183.2 Z" fill="#ff2020"/>
<text x="534.5" y="172" font-size="10" font-style="italic" font-weight="bold" fill="#262626">z</text>
<text x="546.5" y="179.5" font-size="10" font-style="italic" font-weight="bold" fill="#262626">x</text>
<text x="522.5" y="185" font-size="10" font-style="italic" font-weight="bold" fill="#262626">y</text>
<text x="77.2" y="24.5" font-size="14.5" fill="#303030" ><tspan dy="-0.0">σ</tspan><tspan class="s" font-size="8.2" fill="#4a4a4a" dy="2.8">xx</tspan><tspan dy="-2.8"> = σ</tspan><tspan class="s" font-size="8.2" fill="#4a4a4a" dy="2.8">bend</tspan><tspan dy="-2.8">+ σ</tspan><tspan class="s" font-size="8.2" fill="#4a4a4a" dy="2.8">memb</tspan></text>
<path d="M67.2,58.2 L81.7,58.2 L81.7,41 Z" fill="#4472c4" stroke="#1f3864" stroke-width="0.5"/>
<path d="M81.7,41 L81.7,32.5 L88.9,32.5 Z" fill="#ff0000" stroke="#7f0000" stroke-width="0.5"/>
<path d="M97,42.4 H107.4 M97,46.1 H107.4" stroke="#262626" stroke-width="1.9"/>
<path d="M110.6,58.2 L121,58.2 L121,45.5 Z" fill="#4472c4" stroke="#1f3864" stroke-width="0.5"/>
<path d="M121,45.5 L121,32.5 L131.5,32.5 Z" fill="#ff0000" stroke="#7f0000" stroke-width="0.5"/>
<path d="M133,46.7 H142.7 M137.85,41.6 V51.8" stroke="#262626" stroke-width="2"/>
<rect x="152.8" y="32.5" width="4.2" height="25.4" fill="#4472c4"/>
<text x="390.2" y="34.4" font-size="15.0" fill="#303030" ><tspan dy="-0.0" textLength="109.5" lengthAdjust="spacingAndGlyphs">1000 x 1000 mm</tspan><tspan font-size="10" dy="-5.5">2</tspan></text>
<text x="390.0" y="52.0" font-size="15.0" fill="#303030" ><tspan dy="-0.0" textLength="59.5" lengthAdjust="spacingAndGlyphs">d = 4 mm</tspan></text>
<text x="97.4" y="103.7" font-size="15.0" fill="#303030" ><tspan dy="-0.0">u</tspan><tspan class="s" font-size="8.2" fill="#4a4a4a" dy="2.8">mid</tspan></text>
<path d="M107.4,108.6 L116.8,123.1" stroke="#262626" stroke-width="0.8"/>
<text x="426.1" y="103.7" font-size="15.0" fill="#303030" ><tspan dy="-0.0">u</tspan><tspan class="s" font-size="8.2" fill="#4a4a4a" dy="2.8">mid</tspan></text>
<path d="M436.1,108.6 L445.5,123.1" stroke="#262626" stroke-width="0.8"/>
<circle cx="116.8" cy="123.3" r="2.9" fill="#262626"/>
<circle cx="445.5" cy="123.5" r="2.9" fill="#262626"/>
<text x="215.3" y="104.7" font-size="14.5" fill="#303030" ><tspan dy="-0.0">σ</tspan><tspan class="s" font-size="8.2" fill="#4a4a4a" dy="2.8">bend</tspan></text>
<path d="M222.6,110.8 L231.4,122.9" stroke="#262626" stroke-width="0.8"/>
<circle cx="231.6" cy="122.8" r="2.9" fill="#262626"/>
<text x="261.3" y="141.0" font-size="14.5" fill="#303030" ><tspan dy="-0.0" textLength="7.2" lengthAdjust="spacingAndGlyphs">τ</tspan><tspan class="s" font-size="8.2" fill="#4a4a4a" dy="2.8">xy</tspan></text>
<path d="M266.9,144.6 L276.7,158.6" stroke="#262626" stroke-width="0.8"/>
<circle cx="276.5" cy="158.5" r="2.9" fill="#262626"/>
<text x="196.2" y="261.8" font-size="14.5" fill="#303030" ><tspan dy="-0.0">σ</tspan><tspan class="s" font-size="8.2" fill="#4a4a4a" dy="2.8">memb</tspan></text>
<path d="M200.0,263.5 L209.6,277.8" stroke="#262626" stroke-width="0.8"/>
<circle cx="209.6" cy="277.8" r="2.7" fill="#262626"/>
<text x="532.4" y="32.6" font-size="14.5" fill="#303030" ><tspan dy="-0.0">σ</tspan><tspan class="s" font-size="8.2" fill="#4a4a4a" dy="2.8">bend</tspan><tspan dy="-2.8" textLength="5.6" lengthAdjust="spacingAndGlyphs">/</tspan><tspan dy="-0.0" textLength="8.4" lengthAdjust="spacingAndGlyphs">τ</tspan><tspan class="s" font-size="8.2" fill="#4a4a4a" dy="2.8">xy</tspan></text>
<path d="M555.0,36.5 L555.0,52.0" stroke="#262626" stroke-width="0.8"/>
<circle cx="555.1" cy="53.2" r="2.9" fill="#262626"/>
<text x="564.4" y="147.7" font-size="14.5" fill="#303030" ><tspan dy="-0.0" textLength="60.3" lengthAdjust="spacingAndGlyphs">reference</tspan><tspan dy="-0.0"> </tspan><tspan dy="-0.0" textLength="8.2" lengthAdjust="spacingAndGlyphs">τ</tspan><tspan class="s" font-size="8.2" fill="#4a4a4a" dy="2.8">xy</tspan></text>
<text x="589.7" y="266.0" font-size="14.5" fill="#303030" ><tspan dy="-0.0">σ</tspan><tspan class="s" font-size="8.2" fill="#4a4a4a" dy="2.8">memb</tspan><tspan dy="-2.8" textLength="5.6" lengthAdjust="spacingAndGlyphs">/</tspan><tspan dy="-0.0" textLength="8.0" lengthAdjust="spacingAndGlyphs">τ</tspan><tspan class="s" font-size="8.2" fill="#4a4a4a" dy="2.8">xy</tspan></text>
<path d="M610.4,273.2 L610.4,289.0" stroke="#262626" stroke-width="0.8"/>
<circle cx="610.0" cy="289.4" r="2.9" fill="#262626"/>
<text x="269.6" y="208.0" font-size="15.0" fill="#303030" ><tspan dy="-0.0">u</tspan><tspan class="s" font-size="8.2" fill="#4a4a4a" dy="2.8">mid</tspan></text>
<path d="M272.3,209.8 L264.3,221.7" stroke="#262626" stroke-width="0.8"/>
<circle cx="264.3" cy="221.6" r="2.4" fill="#262626"/>
<text x="575.7" y="177.4" font-size="14.5" fill="#303030" ><tspan dy="-0.0">σ</tspan><tspan class="s" font-size="8.2" fill="#4a4a4a" dy="2.8">xx</tspan><tspan dy="-2.8" textLength="17.0" lengthAdjust="spacing"> &amp; </tspan><tspan dy="-0.0" textLength="7.0" lengthAdjust="spacingAndGlyphs">τ</tspan><tspan class="s" font-size="8.2" fill="#4a4a4a" dy="2.8">xy</tspan></text>
<path d="M577.6,178.6 L563.0,194.6" stroke="#262626" stroke-width="0.8"/>
<circle cx="563.0" cy="194.6" r="2.6" fill="#262626"/>
<text x="608.6" y="227.7" font-size="15.0" fill="#303030" ><tspan dy="-0.0">dZ</tspan></text>
</svg></body></html>
